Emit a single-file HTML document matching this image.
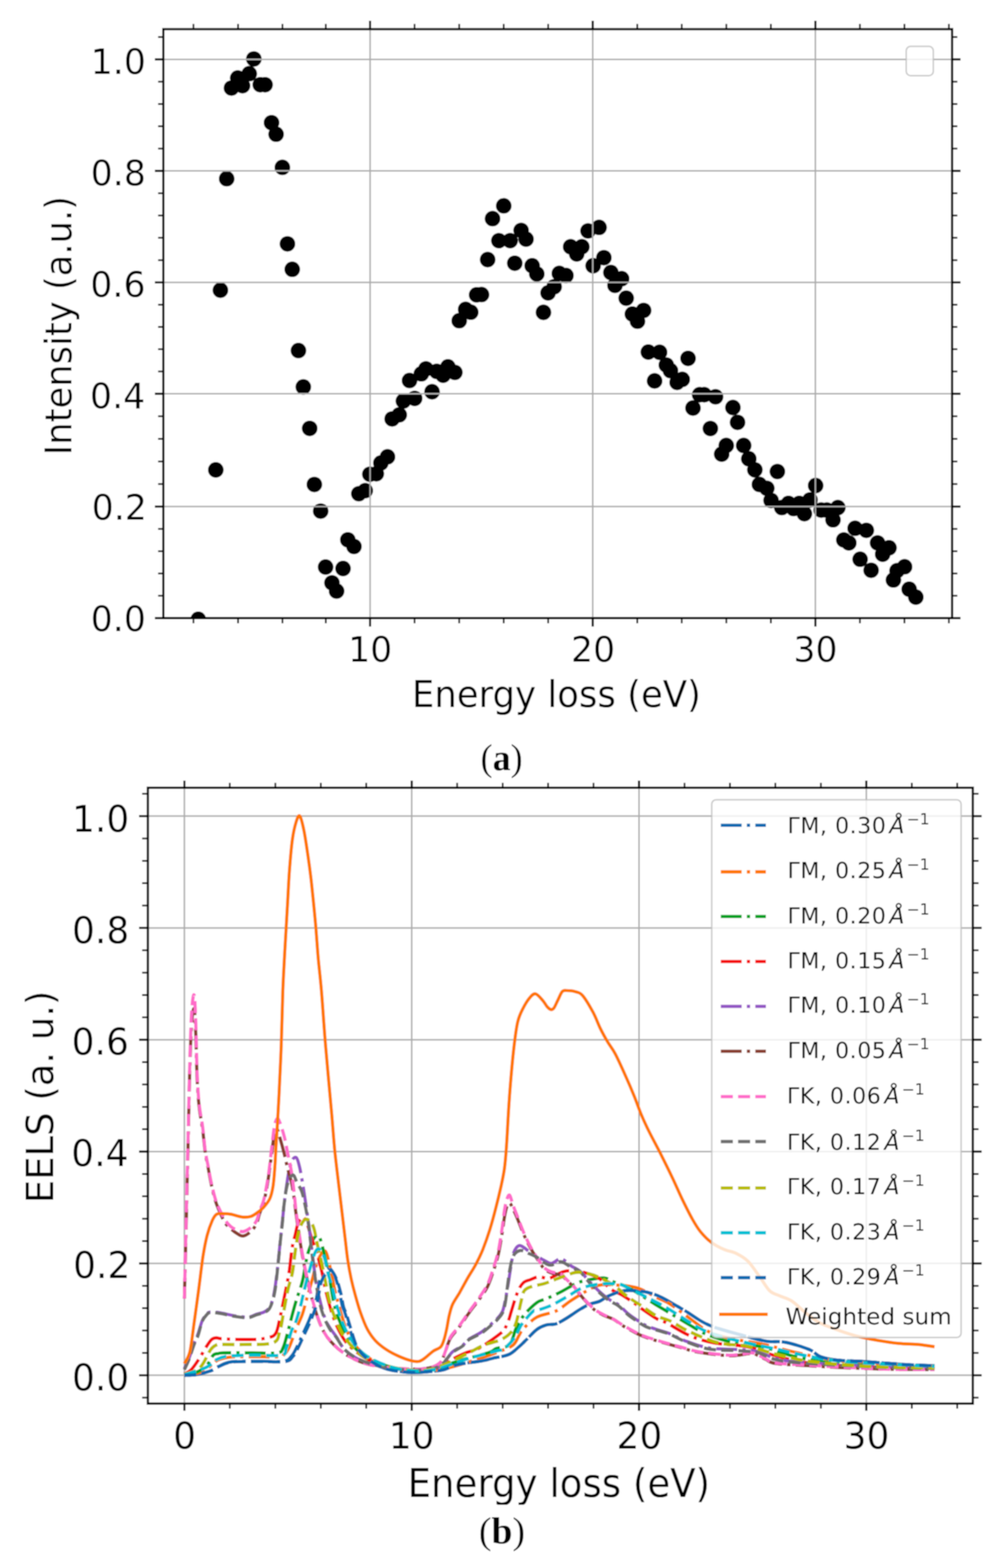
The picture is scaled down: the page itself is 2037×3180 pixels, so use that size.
<!DOCTYPE html>
<html><head><meta charset="utf-8"><title>EELS figure</title>
<style>html,body{margin:0;padding:0;background:#fff;}svg{display:block;}text{font-family:'DejaVu Sans', 'Liberation Sans', sans-serif;}</style></head><body>
<svg width="2037" height="3180" viewBox="0 0 2037 3180">
<rect x="0" y="0" width="2037" height="3180" fill="#ffffff"/>
<filter id="soft" x="0" y="0" width="2037" height="3180" filterUnits="userSpaceOnUse"><feGaussianBlur stdDeviation="1.0"/></filter>
<g filter="url(#soft)">
<rect x="0" y="0" width="2037" height="3180" fill="#ffffff"/>
<defs><clipPath id="clipA"><rect x="331.3" y="59.1" width="1600.5" height="1194.5"/></clipPath><clipPath id="clipB"><rect x="300" y="1597.7" width="1673.8" height="1248.9"/></clipPath><clipPath id="clipXL"><rect x="0" y="2945" width="2037" height="107"/></clipPath></defs>
<g clip-path="url(#clipA)" fill="#000">
<circle cx="402.3" cy="1256" r="15.9"/>
<circle cx="515" cy="119.6" r="15.9"/>
<circle cx="505.7" cy="149.4" r="15.9"/>
<circle cx="482.3" cy="158.2" r="15.9"/>
<circle cx="492" cy="173.8" r="15.9"/>
<circle cx="469.6" cy="178.6" r="15.9"/>
<circle cx="528.1" cy="171.8" r="15.9"/>
<circle cx="537.8" cy="171.8" r="15.9"/>
<circle cx="550.9" cy="248.8" r="15.9"/>
<circle cx="560.2" cy="272.2" r="15.9"/>
<circle cx="572.9" cy="339.4" r="15.9"/>
<circle cx="459.9" cy="362.4" r="15.9"/>
<circle cx="583.2" cy="494.6" r="15.9"/>
<circle cx="592.9" cy="546.2" r="15.9"/>
<circle cx="447.2" cy="588.5" r="15.9"/>
<circle cx="605.5" cy="710.9" r="15.9"/>
<circle cx="615.4" cy="784.7" r="15.9"/>
<circle cx="628.3" cy="868.8" r="15.9"/>
<circle cx="437.8" cy="953" r="15.9"/>
<circle cx="637.8" cy="982.6" r="15.9"/>
<circle cx="650.6" cy="1036.6" r="15.9"/>
<circle cx="705.7" cy="1094.8" r="15.9"/>
<circle cx="718.2" cy="1108.3" r="15.9"/>
<circle cx="660.6" cy="1149.9" r="15.9"/>
<circle cx="696" cy="1153" r="15.9"/>
<circle cx="673.5" cy="1182.1" r="15.9"/>
<circle cx="682.9" cy="1198.7" r="15.9"/>
<circle cx="728" cy="1001.3" r="15.9"/>
<circle cx="741" cy="995.1" r="15.9"/>
<circle cx="750.4" cy="961.8" r="15.9"/>
<circle cx="763.5" cy="960.8" r="15.9"/>
<circle cx="772.7" cy="939" r="15.9"/>
<circle cx="786.2" cy="926.5" r="15.9"/>
<circle cx="795.6" cy="849.6" r="15.9"/>
<circle cx="810.1" cy="841.3" r="15.9"/>
<circle cx="818.4" cy="813.2" r="15.9"/>
<circle cx="841.3" cy="808.1" r="15.9"/>
<circle cx="876.6" cy="794.5" r="15.9"/>
<circle cx="830.9" cy="771.7" r="15.9"/>
<circle cx="854.8" cy="758.2" r="15.9"/>
<circle cx="864.2" cy="748.1" r="15.9"/>
<circle cx="886" cy="753.2" r="15.9"/>
<circle cx="899" cy="761" r="15.9"/>
<circle cx="908.8" cy="743.9" r="15.9"/>
<circle cx="922.9" cy="755.3" r="15.9"/>
<circle cx="931.7" cy="650.4" r="15.9"/>
<circle cx="944.7" cy="627.5" r="15.9"/>
<circle cx="955.1" cy="633.2" r="15.9"/>
<circle cx="967" cy="597.9" r="15.9"/>
<circle cx="976.9" cy="597.4" r="15.9"/>
<circle cx="989.4" cy="526.5" r="15.9"/>
<circle cx="999.3" cy="443.4" r="15.9"/>
<circle cx="1022" cy="417.4" r="15.9"/>
<circle cx="1012.2" cy="488.1" r="15.9"/>
<circle cx="1035.1" cy="488.1" r="15.9"/>
<circle cx="1057.3" cy="467.3" r="15.9"/>
<circle cx="1067.3" cy="484.9" r="15.9"/>
<circle cx="1044.4" cy="533.8" r="15.9"/>
<circle cx="1079.7" cy="539" r="15.9"/>
<circle cx="1089.1" cy="555.6" r="15.9"/>
<circle cx="1102.6" cy="633.5" r="15.9"/>
<circle cx="1112" cy="594" r="15.9"/>
<circle cx="1124.4" cy="581.6" r="15.9"/>
<circle cx="1134.8" cy="554.5" r="15.9"/>
<circle cx="1148.3" cy="558.7" r="15.9"/>
<circle cx="1157.7" cy="500.5" r="15.9"/>
<circle cx="1170.1" cy="515.1" r="15.9"/>
<circle cx="1180.5" cy="500.5" r="15.9"/>
<circle cx="1193" cy="468.3" r="15.9"/>
<circle cx="1203.4" cy="539" r="15.9"/>
<circle cx="1215.5" cy="461.2" r="15.9"/>
<circle cx="1225.2" cy="522.6" r="15.9"/>
<circle cx="1239.4" cy="552.7" r="15.9"/>
<circle cx="1261.2" cy="565.2" r="15.9"/>
<circle cx="1247.7" cy="578.7" r="15.9"/>
<circle cx="1270.5" cy="604.7" r="15.9"/>
<circle cx="1283" cy="636.9" r="15.9"/>
<circle cx="1305.8" cy="629.6" r="15.9"/>
<circle cx="1293.4" cy="651.4" r="15.9"/>
<circle cx="1315.4" cy="714" r="15.9"/>
<circle cx="1338.2" cy="714.5" r="15.9"/>
<circle cx="1351.9" cy="740.3" r="15.9"/>
<circle cx="1360.3" cy="751.7" r="15.9"/>
<circle cx="1328.1" cy="772.5" r="15.9"/>
<circle cx="1373.8" cy="775.6" r="15.9"/>
<circle cx="1384.2" cy="769.4" r="15.9"/>
<circle cx="1396" cy="726.8" r="15.9"/>
<circle cx="1419.5" cy="800.5" r="15.9"/>
<circle cx="1428.8" cy="800.5" r="15.9"/>
<circle cx="1451.7" cy="804.7" r="15.9"/>
<circle cx="1406" cy="827.5" r="15.9"/>
<circle cx="1487" cy="826.5" r="15.9"/>
<circle cx="1496.4" cy="856.6" r="15.9"/>
<circle cx="1441.3" cy="869.1" r="15.9"/>
<circle cx="1473.5" cy="903.4" r="15.9"/>
<circle cx="1464.2" cy="921" r="15.9"/>
<circle cx="1508.8" cy="903.4" r="15.9"/>
<circle cx="1519.2" cy="930.4" r="15.9"/>
<circle cx="1531.5" cy="952.8" r="15.9"/>
<circle cx="1577.2" cy="956.3" r="15.9"/>
<circle cx="1540.7" cy="982.5" r="15.9"/>
<circle cx="1555.8" cy="990.3" r="15.9"/>
<circle cx="1564.4" cy="1014.8" r="15.9"/>
<circle cx="1586.2" cy="1029.4" r="15.9"/>
<circle cx="1599.7" cy="1021" r="15.9"/>
<circle cx="1610.1" cy="1031.4" r="15.9"/>
<circle cx="1621.6" cy="1021" r="15.9"/>
<circle cx="1632" cy="1041.8" r="15.9"/>
<circle cx="1643.4" cy="1013.8" r="15.9"/>
<circle cx="1654.8" cy="984.7" r="15.9"/>
<circle cx="1666.2" cy="1034.5" r="15.9"/>
<circle cx="1677.7" cy="1034.5" r="15.9"/>
<circle cx="1699.9" cy="1029.4" r="15.9"/>
<circle cx="1690.1" cy="1054.2" r="15.9"/>
<circle cx="1734.9" cy="1071.4" r="15.9"/>
<circle cx="1757.7" cy="1075.6" r="15.9"/>
<circle cx="1712" cy="1095.1" r="15.9"/>
<circle cx="1722.2" cy="1101.1" r="15.9"/>
<circle cx="1780.5" cy="1101.1" r="15.9"/>
<circle cx="1803.7" cy="1110.9" r="15.9"/>
<circle cx="1790.8" cy="1124" r="15.9"/>
<circle cx="1745.1" cy="1134.2" r="15.9"/>
<circle cx="1767.4" cy="1156.6" r="15.9"/>
<circle cx="1835.3" cy="1149.4" r="15.9"/>
<circle cx="1820" cy="1157.5" r="15.9"/>
<circle cx="1812.6" cy="1176.2" r="15.9"/>
<circle cx="1844.6" cy="1195" r="15.9"/>
<circle cx="1858.1" cy="1211" r="15.9"/>
</g>
<g stroke="#ababab" stroke-width="3.0" fill="none">
<line x1="331.3" y1="1027.3" x2="1931.8" y2="1027.3"/>
<line x1="331.3" y1="798.6" x2="1931.8" y2="798.6"/>
<line x1="331.3" y1="572.8" x2="1931.8" y2="572.8"/>
<line x1="331.3" y1="346.6" x2="1931.8" y2="346.6"/>
<line x1="331.3" y1="120.4" x2="1931.8" y2="120.4"/>
<line x1="750.9" y1="59.1" x2="750.9" y2="1253.6"/>
<line x1="1202.6" y1="59.1" x2="1202.6" y2="1253.6"/>
<line x1="1654.3" y1="59.1" x2="1654.3" y2="1253.6"/>
</g>
<rect x="1838.6" y="94.0" width="55.0" height="59.4" rx="9" ry="9" fill="#ffffff" fill-opacity="0.8" stroke="#bdbdbd" stroke-opacity="0.8" stroke-width="3.0"/>
<g stroke="#000" fill="none">
<line x1="314.3" y1="1253.6" x2="331.3" y2="1253.6" stroke-width="4.3"/>
<line x1="1931.8" y1="1253.6" x2="1948.8" y2="1253.6" stroke-width="4.3"/>
<line x1="314.3" y1="1027.3" x2="331.3" y2="1027.3" stroke-width="4.3"/>
<line x1="1931.8" y1="1027.3" x2="1948.8" y2="1027.3" stroke-width="4.3"/>
<line x1="314.3" y1="798.6" x2="331.3" y2="798.6" stroke-width="4.3"/>
<line x1="1931.8" y1="798.6" x2="1948.8" y2="798.6" stroke-width="4.3"/>
<line x1="314.3" y1="572.8" x2="331.3" y2="572.8" stroke-width="4.3"/>
<line x1="1931.8" y1="572.8" x2="1948.8" y2="572.8" stroke-width="4.3"/>
<line x1="314.3" y1="346.6" x2="331.3" y2="346.6" stroke-width="4.3"/>
<line x1="1931.8" y1="346.6" x2="1948.8" y2="346.6" stroke-width="4.3"/>
<line x1="314.3" y1="120.4" x2="331.3" y2="120.4" stroke-width="4.3"/>
<line x1="1931.8" y1="120.4" x2="1948.8" y2="120.4" stroke-width="4.3"/>
<line x1="320.8" y1="1208.3" x2="331.3" y2="1208.3" stroke-width="3.5"/>
<line x1="1931.8" y1="1208.3" x2="1942.3" y2="1208.3" stroke-width="3.5"/>
<line x1="320.8" y1="1163.1" x2="331.3" y2="1163.1" stroke-width="3.5"/>
<line x1="1931.8" y1="1163.1" x2="1942.3" y2="1163.1" stroke-width="3.5"/>
<line x1="320.8" y1="1117.8" x2="331.3" y2="1117.8" stroke-width="3.5"/>
<line x1="1931.8" y1="1117.8" x2="1942.3" y2="1117.8" stroke-width="3.5"/>
<line x1="320.8" y1="1072.6" x2="331.3" y2="1072.6" stroke-width="3.5"/>
<line x1="1931.8" y1="1072.6" x2="1942.3" y2="1072.6" stroke-width="3.5"/>
<line x1="320.8" y1="981.6" x2="331.3" y2="981.6" stroke-width="3.5"/>
<line x1="1931.8" y1="981.6" x2="1942.3" y2="981.6" stroke-width="3.5"/>
<line x1="320.8" y1="935.8" x2="331.3" y2="935.8" stroke-width="3.5"/>
<line x1="1931.8" y1="935.8" x2="1942.3" y2="935.8" stroke-width="3.5"/>
<line x1="320.8" y1="890.1" x2="331.3" y2="890.1" stroke-width="3.5"/>
<line x1="1931.8" y1="890.1" x2="1942.3" y2="890.1" stroke-width="3.5"/>
<line x1="320.8" y1="844.3" x2="331.3" y2="844.3" stroke-width="3.5"/>
<line x1="1931.8" y1="844.3" x2="1942.3" y2="844.3" stroke-width="3.5"/>
<line x1="320.8" y1="753.4" x2="331.3" y2="753.4" stroke-width="3.5"/>
<line x1="1931.8" y1="753.4" x2="1942.3" y2="753.4" stroke-width="3.5"/>
<line x1="320.8" y1="708.3" x2="331.3" y2="708.3" stroke-width="3.5"/>
<line x1="1931.8" y1="708.3" x2="1942.3" y2="708.3" stroke-width="3.5"/>
<line x1="320.8" y1="663.1" x2="331.3" y2="663.1" stroke-width="3.5"/>
<line x1="1931.8" y1="663.1" x2="1942.3" y2="663.1" stroke-width="3.5"/>
<line x1="320.8" y1="618" x2="331.3" y2="618" stroke-width="3.5"/>
<line x1="1931.8" y1="618" x2="1942.3" y2="618" stroke-width="3.5"/>
<line x1="320.8" y1="527.6" x2="331.3" y2="527.6" stroke-width="3.5"/>
<line x1="1931.8" y1="527.6" x2="1942.3" y2="527.6" stroke-width="3.5"/>
<line x1="320.8" y1="482.3" x2="331.3" y2="482.3" stroke-width="3.5"/>
<line x1="1931.8" y1="482.3" x2="1942.3" y2="482.3" stroke-width="3.5"/>
<line x1="320.8" y1="437.1" x2="331.3" y2="437.1" stroke-width="3.5"/>
<line x1="1931.8" y1="437.1" x2="1942.3" y2="437.1" stroke-width="3.5"/>
<line x1="320.8" y1="391.8" x2="331.3" y2="391.8" stroke-width="3.5"/>
<line x1="1931.8" y1="391.8" x2="1942.3" y2="391.8" stroke-width="3.5"/>
<line x1="320.8" y1="301.4" x2="331.3" y2="301.4" stroke-width="3.5"/>
<line x1="1931.8" y1="301.4" x2="1942.3" y2="301.4" stroke-width="3.5"/>
<line x1="320.8" y1="256.1" x2="331.3" y2="256.1" stroke-width="3.5"/>
<line x1="1931.8" y1="256.1" x2="1942.3" y2="256.1" stroke-width="3.5"/>
<line x1="320.8" y1="210.9" x2="331.3" y2="210.9" stroke-width="3.5"/>
<line x1="1931.8" y1="210.9" x2="1942.3" y2="210.9" stroke-width="3.5"/>
<line x1="320.8" y1="165.6" x2="331.3" y2="165.6" stroke-width="3.5"/>
<line x1="1931.8" y1="165.6" x2="1942.3" y2="165.6" stroke-width="3.5"/>
<line x1="320.8" y1="75.2" x2="331.3" y2="75.2" stroke-width="3.5"/>
<line x1="1931.8" y1="75.2" x2="1942.3" y2="75.2" stroke-width="3.5"/>
<line x1="750.9" y1="1253.6" x2="750.9" y2="1270.6" stroke-width="4.3"/>
<line x1="750.9" y1="42.1" x2="750.9" y2="59.1" stroke-width="4.3"/>
<line x1="1202.6" y1="1253.6" x2="1202.6" y2="1270.6" stroke-width="4.3"/>
<line x1="1202.6" y1="42.1" x2="1202.6" y2="59.1" stroke-width="4.3"/>
<line x1="1654.3" y1="1253.6" x2="1654.3" y2="1270.6" stroke-width="4.3"/>
<line x1="1654.3" y1="42.1" x2="1654.3" y2="59.1" stroke-width="4.3"/>
<line x1="392.5" y1="1253.6" x2="392.5" y2="1264.1" stroke-width="3.5"/>
<line x1="392.5" y1="48.6" x2="392.5" y2="59.1" stroke-width="3.5"/>
<line x1="483" y1="1253.6" x2="483" y2="1264.1" stroke-width="3.5"/>
<line x1="483" y1="48.6" x2="483" y2="59.1" stroke-width="3.5"/>
<line x1="573.2" y1="1253.6" x2="573.2" y2="1264.1" stroke-width="3.5"/>
<line x1="573.2" y1="48.6" x2="573.2" y2="59.1" stroke-width="3.5"/>
<line x1="661" y1="1253.6" x2="661" y2="1264.1" stroke-width="3.5"/>
<line x1="661" y1="48.6" x2="661" y2="59.1" stroke-width="3.5"/>
<line x1="841.2" y1="1253.6" x2="841.2" y2="1264.1" stroke-width="3.5"/>
<line x1="841.2" y1="48.6" x2="841.2" y2="59.1" stroke-width="3.5"/>
<line x1="931.6" y1="1253.6" x2="931.6" y2="1264.1" stroke-width="3.5"/>
<line x1="931.6" y1="48.6" x2="931.6" y2="59.1" stroke-width="3.5"/>
<line x1="1021.9" y1="1253.6" x2="1021.9" y2="1264.1" stroke-width="3.5"/>
<line x1="1021.9" y1="48.6" x2="1021.9" y2="59.1" stroke-width="3.5"/>
<line x1="1112.3" y1="1253.6" x2="1112.3" y2="1264.1" stroke-width="3.5"/>
<line x1="1112.3" y1="48.6" x2="1112.3" y2="59.1" stroke-width="3.5"/>
<line x1="1292.9" y1="1253.6" x2="1292.9" y2="1264.1" stroke-width="3.5"/>
<line x1="1292.9" y1="48.6" x2="1292.9" y2="59.1" stroke-width="3.5"/>
<line x1="1383.3" y1="1253.6" x2="1383.3" y2="1264.1" stroke-width="3.5"/>
<line x1="1383.3" y1="48.6" x2="1383.3" y2="59.1" stroke-width="3.5"/>
<line x1="1473.6" y1="1253.6" x2="1473.6" y2="1264.1" stroke-width="3.5"/>
<line x1="1473.6" y1="48.6" x2="1473.6" y2="59.1" stroke-width="3.5"/>
<line x1="1564" y1="1253.6" x2="1564" y2="1264.1" stroke-width="3.5"/>
<line x1="1564" y1="48.6" x2="1564" y2="59.1" stroke-width="3.5"/>
<line x1="1744.6" y1="1253.6" x2="1744.6" y2="1264.1" stroke-width="3.5"/>
<line x1="1744.6" y1="48.6" x2="1744.6" y2="59.1" stroke-width="3.5"/>
<line x1="1835" y1="1253.6" x2="1835" y2="1264.1" stroke-width="3.5"/>
<line x1="1835" y1="48.6" x2="1835" y2="59.1" stroke-width="3.5"/>
<line x1="1925.3" y1="1253.6" x2="1925.3" y2="1264.1" stroke-width="3.5"/>
<line x1="1925.3" y1="48.6" x2="1925.3" y2="59.1" stroke-width="3.5"/>
</g>
<rect x="331.3" y="59.1" width="1600.5" height="1194.5" fill="none" stroke="#000" stroke-width="4.6" stroke-linejoin="miter"/>
<text transform="translate(184,1280.3) scale(0.9780,1)" font-size="72" fill="#000">0.0</text>
<text transform="translate(186.1,1054.3) scale(0.9780,1)" font-size="72" fill="#000">0.2</text>
<text transform="translate(182.6,828.3) scale(0.9780,1)" font-size="72" fill="#000">0.4</text>
<text transform="translate(183.3,602.3) scale(0.9780,1)" font-size="72" fill="#000">0.6</text>
<text transform="translate(184,376.3) scale(0.9780,1)" font-size="72" fill="#000">0.8</text>
<text transform="translate(184,150.3) scale(0.9780,1)" font-size="72" fill="#000">1.0</text>
<text transform="translate(706.2,1341.9) scale(0.9780,1)" font-size="72" fill="#000">10</text>
<text transform="translate(1158.5,1341.9) scale(0.9780,1)" font-size="72" fill="#000">20</text>
<text transform="translate(1609.8,1341.9) scale(0.9780,1)" font-size="72" fill="#000">30</text>
<text transform="translate(835.7,1434.3) scale(0.9660,1)" font-size="74.5" fill="#000">Energy loss (eV)</text>
<text transform="translate(144.5,923.2) rotate(-90) scale(0.9560,1)" font-size="75" fill="#000">Intensity (a.u.)</text>
<text transform="translate(975,1561.9) scale(0.9550,1)" font-size="76.7" style="font-family:'Liberation Serif','Times New Roman',serif" font-weight="bold" fill="#000"><tspan font-weight="normal">(</tspan>a<tspan font-weight="normal">)</tspan></text>
<g stroke="#ababab" stroke-width="3.0" fill="none">
<line x1="300" y1="2789.1" x2="1973.8" y2="2789.1"/>
<line x1="300" y1="2562.3" x2="1973.8" y2="2562.3"/>
<line x1="300" y1="2335.5" x2="1973.8" y2="2335.5"/>
<line x1="300" y1="2108.7" x2="1973.8" y2="2108.7"/>
<line x1="300" y1="1881.9" x2="1973.8" y2="1881.9"/>
<line x1="300" y1="1655.1" x2="1973.8" y2="1655.1"/>
<line x1="374.1" y1="1597.7" x2="374.1" y2="2846.6"/>
<line x1="835.3" y1="1597.7" x2="835.3" y2="2846.6"/>
<line x1="1296.5" y1="1597.7" x2="1296.5" y2="2846.6"/>
<line x1="1757.7" y1="1597.7" x2="1757.7" y2="2846.6"/>
</g>
<g clip-path="url(#clipB)" fill="none" stroke-linejoin="round">
<path d="M374.1,2789.1 C377.9,2788.9 388.2,2789.5 397.2,2788 C406.1,2786.5 419.8,2782.9 427.6,2780 C435.4,2777.2 437.2,2774 444.2,2771 C451.2,2767.9 455.5,2763.6 469.6,2761.9 C483.6,2760.2 510.8,2760.9 528.6,2760.8 C546.4,2760.6 565.7,2762.5 576.1,2760.8 C586.6,2759 587.1,2755.1 591.3,2750.5 C595.6,2746 597.8,2740.7 601.5,2733.5 C605.2,2726.4 609.1,2717.1 613.5,2707.5 C617.8,2697.8 623.3,2686.9 627.8,2675.7 C632.2,2664.5 637.4,2650 640.2,2640.5 C643,2631.1 643,2626.2 644.4,2619 C645.7,2611.8 646.3,2604.1 648.5,2597.5 C650.7,2590.8 654.4,2583.5 657.7,2579.3 C661.1,2575.2 665.1,2570.8 668.8,2572.5 C672.5,2574.2 676.6,2581.8 679.9,2589.5 C683.2,2597.3 686.3,2609.4 688.6,2619 C691,2628.6 692.2,2639.8 694.2,2647.3 C696.2,2654.9 697,2653 700.6,2664.4 C704.2,2675.7 711.9,2703.5 715.8,2715.4 C719.8,2727.3 720.4,2729.4 724.6,2735.8 C728.8,2742.2 732.8,2747.7 741.2,2753.9 C749.7,2760.2 764,2768.7 775.3,2773.2 C786.6,2777.8 797.8,2779.5 809,2781.2 C820.2,2782.9 831.5,2783.4 842.7,2783.4 C853.9,2783.4 866.8,2782.1 876.3,2781.2 C885.9,2780.2 891.4,2780 899.9,2777.8 C908.3,2775.5 913.8,2770.6 927.1,2767.6 C940.4,2764.5 967,2761.9 979.7,2759.6 C992.3,2757.3 994,2756 1002.7,2753.9 C1011.5,2751.9 1023.9,2750.9 1032.2,2747.1 C1040.6,2743.4 1047.1,2736.2 1053,2731.3 C1058.8,2726.4 1061.2,2723.5 1067.3,2717.7 C1073.4,2711.8 1082.5,2701.2 1089.4,2696.1 C1096.3,2691 1102.3,2688.9 1108.8,2687 C1115.2,2685.2 1121.7,2686.9 1128.2,2684.8 C1134.6,2682.7 1139.4,2679.5 1147.5,2674.6 C1155.7,2669.7 1168.9,2660.2 1177,2655.3 C1185.2,2650.4 1190,2647.7 1196.4,2645.1 C1202.9,2642.4 1209.3,2642.2 1215.8,2639.4 C1222.2,2636.6 1227,2631.7 1235.2,2628.1 C1243.3,2624.5 1254.9,2619.6 1264.7,2617.9 C1274.4,2616.2 1284.7,2617.1 1293.7,2617.9 C1302.8,2618.6 1311,2620.1 1319.1,2622.4 C1327.2,2624.7 1331,2625.6 1342.6,2631.5 C1354.2,2637.3 1372.9,2648.3 1388.7,2657.6 C1404.6,2666.8 1418.4,2678.7 1437.6,2687 C1456.8,2695.4 1484.6,2702 1504,2707.5 C1523.5,2712.9 1539.4,2717.5 1554.3,2719.9 C1569.2,2722.4 1578.9,2719.4 1593.5,2722.2 C1608.1,2725 1630,2732 1641.9,2736.9 C1653.9,2741.8 1655.3,2748.1 1665,2751.7 C1674.7,2755.3 1686.4,2757 1700,2758.5 C1713.7,2760 1731.5,2759.8 1747.1,2760.8 C1762.7,2761.7 1778.1,2763 1793.7,2764.2 C1809.3,2765.3 1823.7,2766.6 1840.7,2767.6 C1857.8,2768.5 1886.8,2769.4 1896.1,2769.8" stroke="#0869b0" stroke-width="6.6" stroke-dasharray="42.2 10.6 6.6 10.6" stroke-linecap="butt"/>
<path d="M374.1,2789.1 C379.3,2788.2 396,2787 405.5,2783.4 C414.9,2779.8 424.4,2771.9 430.8,2767.6 C437.3,2763.2 436.3,2760 444.2,2757.3 C452.1,2754.7 458.6,2752.6 478.3,2751.7 C498.1,2750.7 546.4,2752.4 562.7,2751.7 C579,2750.9 572.2,2750.2 576.1,2747.1 C580,2744.1 582.9,2740.1 586.3,2733.5 C589.6,2726.9 593.6,2714.6 596.4,2707.5 C599.2,2700.3 600,2697.4 602.9,2690.4 C605.7,2683.4 610.2,2675.1 613.5,2665.5 C616.8,2655.9 619.5,2643.9 622.7,2632.6 C625.9,2621.3 630.1,2607.3 632.8,2597.5 C635.6,2587.6 636.7,2581.8 639.3,2573.6 C641.9,2565.5 645.1,2554.7 648.5,2548.7 C652,2542.6 656.7,2534.5 660,2537.4 C663.4,2540.2 665.5,2552.1 668.8,2565.7 C672.1,2579.3 676,2602.6 679.9,2619 C683.8,2635.4 687.9,2650.2 692.3,2664.4 C696.7,2678.5 700,2691.8 706.2,2704 C712.3,2716.3 719.2,2728.1 729.2,2738.1 C739.2,2748.1 752.3,2757.5 766.1,2764.2 C780,2770.8 796.9,2775.1 812.2,2777.8 C827.6,2780.4 843,2780.4 858.4,2780 C873.7,2779.6 885.3,2779.6 904.5,2775.5 C923.7,2771.3 955.3,2760.9 973.7,2755.1 C992,2749.2 1003.5,2744.9 1014.7,2740.3 C1025.9,2735.8 1034.6,2733.2 1041,2727.9 C1047.4,2722.6 1049.5,2714.1 1053,2708.6 C1056.4,2703.1 1055.7,2701.2 1061.7,2695 C1067.8,2688.7 1078.4,2677.2 1089.4,2671.2 C1100.5,2665.1 1116.8,2664.2 1128.2,2658.7 C1139.5,2653.2 1147.9,2644.7 1157.7,2638.3 C1167.4,2631.9 1177,2625.4 1186.7,2620.1 C1196.4,2614.8 1204.4,2608.8 1215.8,2606.5 C1227.2,2604.3 1242,2605.6 1255,2606.5 C1268,2607.5 1280.8,2608 1293.7,2612.2 C1306.6,2616.4 1321.4,2626 1332.5,2631.5 C1343.5,2637 1349.1,2638.1 1360.1,2645.1 C1371.2,2652.1 1386,2664.2 1398.9,2673.4 C1411.8,2682.7 1423.9,2693.8 1437.6,2700.6 C1451.3,2707.5 1462.2,2709.9 1481,2714.3 C1499.7,2718.6 1527.1,2721.8 1550.2,2726.7 C1573.2,2731.6 1592.4,2738.1 1619.3,2743.7 C1646.2,2749.4 1665.5,2756.2 1711.6,2760.8 C1757.7,2765.3 1865.3,2769.3 1896.1,2771" stroke="#ff7600" stroke-width="6.6" stroke-dasharray="42.2 10.6 6.6 10.6" stroke-linecap="butt"/>
<path d="M374.1,2788 C378.5,2787 392.6,2785.7 400.4,2782.3 C408.2,2778.9 415.3,2773.2 420.7,2767.6 C426.1,2761.9 428.9,2752.1 432.7,2748.3 C436.4,2744.5 439.9,2745.6 443.3,2744.9 C446.7,2744.1 441.5,2743.9 453,2743.7 C464.4,2743.6 493.7,2743.7 512,2743.7 C530.3,2743.7 552.4,2745.4 562.7,2743.7 C573.1,2742 570.6,2740.9 574.3,2733.5 C577.9,2726.2 581.3,2710.9 584.4,2699.5 C587.6,2688.2 590.3,2676.1 593.2,2665.5 C596,2654.9 598.1,2647.2 601.5,2636 C604.9,2624.9 610.2,2611.8 613.5,2598.6 C616.8,2585.4 619,2567.4 621.3,2556.6 C623.6,2545.9 624.7,2541.5 627.3,2533.9 C629.9,2526.4 633.9,2516 637,2511.3 C640.1,2506.5 643.1,2503.7 645.7,2505.6 C648.4,2507.5 649.8,2512.8 652.7,2522.6 C655.5,2532.4 660.1,2552.7 662.8,2564.6 C665.5,2576.5 666.4,2581.4 668.8,2594.1 C671.2,2606.7 674,2626.9 677.1,2640.5 C680.3,2654.2 682.9,2663.2 687.7,2675.7 C692.6,2688.2 698.5,2703.7 706.2,2715.4 C713.9,2727.1 721.5,2737.1 733.8,2746 C746.1,2754.9 763,2763 780,2768.7 C796.9,2774.4 818.4,2778.5 835.3,2780 C852.2,2781.5 866,2781 881.4,2777.8 C896.8,2774.5 909.4,2766.4 927.5,2760.8 C945.7,2755.1 977,2748.1 990.3,2743.7 C1003.6,2739.4 1000.3,2737.1 1007.3,2734.7 C1014.3,2732.2 1026.6,2732.8 1032.2,2729 C1037.8,2725.2 1038.5,2718 1041,2712 C1043.5,2705.9 1043.7,2700.3 1047.5,2692.7 C1051.2,2685.2 1056.6,2675.1 1063.6,2666.6 C1070.6,2658.1 1081.9,2647.2 1089.4,2641.7 C1097,2636.2 1100.7,2637.3 1108.8,2633.7 C1116.9,2630.2 1127.5,2625.4 1137.8,2620.1 C1148.2,2614.8 1161.3,2606.1 1171.1,2602 C1180.8,2597.8 1187.3,2596.9 1196.4,2595.2 C1205.5,2593.5 1217.4,2591 1225.5,2591.8 C1233.5,2592.5 1236.7,2596.5 1244.8,2599.7 C1253,2602.9 1263.9,2605.8 1274.4,2611.1 C1284.8,2616.4 1297.9,2625.4 1307.6,2631.5 C1317.3,2637.5 1325.1,2642.8 1332.5,2647.3 C1339.9,2651.9 1340.8,2652.1 1351.8,2658.7 C1362.9,2665.3 1385.2,2679.1 1398.9,2687 C1412.6,2695 1420.3,2700.6 1433.9,2706.3 C1447.6,2712 1461.6,2716.7 1481,2721.1 C1500.4,2725.4 1527.1,2727.1 1550.2,2732.4 C1573.2,2737.7 1592.4,2747.1 1619.3,2752.8 C1646.2,2758.5 1665.5,2763 1711.6,2766.4 C1757.7,2769.8 1865.3,2772.1 1896.1,2773.2" stroke="#03a024" stroke-width="6.6" stroke-dasharray="42.2 10.6 6.6 10.6" stroke-linecap="butt"/>
<path d="M374.1,2786.8 C376.4,2785.3 383.2,2782.5 387.9,2777.8 C392.6,2773 397,2766.4 402.2,2758.5 C407.5,2750.5 414.8,2737.1 419.3,2730.1 C423.8,2723.1 426.2,2719.4 429.4,2716.5 C432.7,2713.7 434.7,2713.3 438.7,2713.1 C442.6,2712.9 440.7,2714.8 453,2715.4 C465.2,2716 497.1,2716.9 512,2716.5 C526.9,2716.1 534.5,2715.2 542.4,2713.1 C550.4,2711 555.2,2711 559.5,2704 C563.8,2697.1 565.4,2683.3 568.3,2671.2 C571.1,2659.1 573.6,2646.4 576.6,2631.5 C579.6,2616.5 583.6,2598.4 586.3,2581.6 C588.9,2564.8 590.6,2543.6 592.7,2530.5 C594.9,2517.5 597.2,2511.6 599.2,2503.3 C601.2,2495 602.2,2486.5 604.7,2480.7 C607.2,2474.8 611.2,2467.4 614.4,2468.2 C617.6,2468.9 621.1,2478 624.1,2485.2 C627.1,2492.4 629.7,2503.1 632.4,2511.3 C635.1,2519.4 637.8,2526.4 640.2,2533.9 C642.7,2541.5 644.7,2547.9 647.1,2556.6 C649.5,2565.3 652.1,2575.5 654.5,2586.1 C656.9,2596.7 658.2,2607.1 661.4,2620.1 C664.7,2633.2 669.5,2651.3 673.9,2664.4 C678.3,2677.4 682.3,2688 687.7,2698.4 C693.1,2708.8 696.9,2717.3 706.2,2726.7 C715.4,2736.2 729.2,2747.5 743.1,2755.1 C756.9,2762.6 773.8,2767.9 789.2,2772.1 C804.6,2776.2 819.9,2779.5 835.3,2780 C850.7,2780.6 866.1,2780.2 881.4,2775.5 C896.7,2770.8 916.5,2757 927.1,2751.7 C937.6,2746.4 937.3,2746.6 944.6,2743.7 C951.9,2740.9 962.1,2739 970.9,2734.7 C979.7,2730.3 989,2723.3 997.2,2717.7 C1005.3,2712 1015.1,2704.8 1019.8,2700.6 C1024.5,2696.5 1023.2,2696.7 1025.3,2692.7 C1027.4,2688.7 1030.2,2682.3 1032.2,2676.8 C1034.2,2671.4 1034.4,2669.1 1037.3,2659.8 C1040.2,2650.6 1045.8,2630.9 1049.8,2621.3 C1053.8,2611.6 1056.9,2606.3 1061.3,2602 C1065.7,2597.6 1070.7,2597.3 1076,2595.2 C1081.4,2593.1 1087,2589.9 1093.1,2589.5 C1099.2,2589.1 1107,2593.3 1112.5,2592.9 C1117.9,2592.5 1120.9,2589.5 1125.9,2587.2 C1130.8,2585 1136.1,2581 1142,2579.3 C1147.9,2577.6 1153.6,2576.7 1161.4,2577 C1169.1,2577.4 1179.5,2578.9 1188.6,2581.6 C1197.6,2584.2 1207.3,2587.4 1215.8,2592.9 C1224.2,2598.4 1231.2,2608.6 1239.3,2614.5 C1247.5,2620.3 1256.5,2623.2 1264.7,2628.1 C1272.8,2633 1281.7,2639.4 1288.2,2643.9 C1294.7,2648.5 1296,2650.2 1303.4,2655.3 C1310.8,2660.4 1324.4,2670 1332.5,2674.6 C1340.5,2679.1 1340.8,2676.8 1351.8,2682.5 C1362.9,2688.2 1383,2701.8 1398.9,2708.6 C1414.8,2715.4 1427.9,2719.5 1447.3,2723.3 C1466.8,2727.1 1494.6,2726.9 1515.6,2731.3 C1536.6,2735.6 1552.1,2743.9 1573.2,2749.4 C1594.4,2754.9 1611.7,2760.4 1642.4,2764.2 C1673.1,2767.9 1715.4,2770.2 1757.7,2772.1 C1800,2774 1873,2774.9 1896.1,2775.5" stroke="#f40808" stroke-width="6.6" stroke-dasharray="42.2 10.6 6.6 10.6" stroke-linecap="butt"/>
<path d="M374.1,2775.5 C375.6,2772.1 380,2763.6 383.3,2755.1 C386.6,2746.6 390.8,2733 393.9,2724.5 C397.1,2716 399.5,2711.8 402.2,2704 C405,2696.3 407.5,2684.6 410.5,2678 C413.5,2671.4 417.7,2667.2 420.2,2664.4 C422.8,2661.5 421.8,2661.3 425.8,2661 C429.8,2660.6 435.4,2660.8 444.2,2662.1 C453,2663.4 468.4,2667.4 478.3,2668.9 C488.2,2670.4 496.7,2671.7 503.7,2671.2 C510.7,2670.6 515,2667.2 520.3,2665.5 C525.6,2663.8 531.3,2663 535.5,2661 C539.7,2658.9 542.7,2657.2 545.7,2653 C548.6,2648.9 550.9,2643.6 553,2636 C555.2,2628.4 556.7,2619.9 558.6,2607.7 C560.4,2595.4 562.3,2578.4 564.1,2562.3 C565.9,2546.2 567.7,2525.4 569.2,2511.3 C570.6,2497.1 571.6,2489.5 572.9,2477.2 C574.2,2465 575.6,2449.8 577,2437.6 C578.5,2425.3 580.1,2413.9 581.6,2403.5 C583.2,2393.1 584.3,2383.7 586.3,2375.2 C588.2,2366.7 590.6,2357 593.2,2352.5 C595.7,2348 599,2345.5 601.5,2348 C603.9,2350.4 605.8,2358.2 607.9,2367.3 C610.1,2376.3 612.6,2392.2 614.4,2402.4 C616.2,2412.6 617.1,2418.8 618.5,2428.5 C620,2438.1 621.6,2449.3 623.1,2460.2 C624.7,2471.2 625.8,2479.1 627.8,2494.3 C629.7,2509.4 632.4,2533 634.7,2551 C637,2568.9 638.9,2586.5 641.6,2602 C644.3,2617.5 647.7,2631.7 650.8,2643.9 C653.9,2656.2 657,2667.6 660,2675.7 C663.1,2683.8 665.6,2686.9 669.3,2692.7 C673,2698.6 677.2,2703.5 682.2,2710.9 C687.2,2718.2 692.2,2729.6 699.2,2736.9 C706.3,2744.3 714.2,2749.8 724.6,2755.1 C735,2760.4 747.7,2765.1 761.5,2768.7 C775.3,2772.3 793.8,2774.9 807.6,2776.6 C821.5,2778.3 833,2779.1 844.5,2778.9 C856.1,2778.7 868.4,2777.2 876.8,2775.5 C885.3,2773.8 890.3,2771.9 895.3,2768.7 C900.2,2765.5 902.5,2760.8 906.3,2756.2 C910.2,2751.7 913,2746 918.3,2741.5 C923.6,2736.9 932.5,2733.3 938.1,2729 C943.8,2724.7 945.6,2719.9 952,2715.4 C958.4,2710.9 968.9,2706.9 976.4,2701.8 C984,2696.7 991.6,2689.5 997.2,2684.8 C1002.7,2680 1005.9,2677.8 1009.6,2673.4 C1013.4,2669.1 1017.2,2664.9 1019.8,2658.7 C1022.4,2652.5 1023.5,2644.5 1025.3,2636 C1027.1,2627.5 1028.6,2618.2 1030.4,2607.7 C1032.2,2597.1 1034.2,2583.1 1035.9,2572.5 C1037.7,2561.9 1039.1,2551.1 1041,2544.2 C1042.9,2537.2 1045.1,2533.6 1047.5,2530.5 C1049.8,2527.5 1052.1,2526 1054.8,2526 C1057.5,2526 1060.7,2528.7 1063.6,2530.5 C1066.5,2532.4 1068.1,2534.5 1072.4,2537.4 C1076.7,2540.2 1084,2544.3 1089.4,2547.6 C1094.9,2550.8 1100.3,2554.2 1105.1,2556.6 C1109.9,2559.1 1113.5,2562.9 1118.5,2562.3 C1123.5,2561.7 1130.8,2554.4 1135.1,2553.2 C1139.4,2552.1 1140.5,2553.2 1144.3,2555.5 C1148.1,2557.8 1152.2,2563.1 1157.7,2566.8 C1163.1,2570.6 1170.6,2572.7 1177,2578.2 C1183.5,2583.7 1190,2592.9 1196.4,2599.7 C1202.9,2606.5 1209.3,2613.1 1215.8,2619 C1222.2,2624.9 1228.6,2630.3 1235.2,2634.9 C1241.7,2639.4 1248.5,2641.3 1255,2646.2 C1261.5,2651.1 1267.9,2659.1 1274.4,2664.4 C1280.8,2669.7 1287.3,2673.8 1293.7,2678 C1300.2,2682.1 1305,2685.7 1313.1,2689.3 C1321.3,2692.9 1334.8,2696.9 1342.6,2699.5 C1350.5,2702.2 1352.5,2702 1360.1,2705.2 C1367.8,2708.4 1375.8,2714.1 1388.7,2718.8 C1401.7,2723.5 1419.7,2730.5 1437.6,2733.5 C1455.5,2736.6 1480,2735.8 1496.2,2736.9 C1512.4,2738.1 1525.9,2738.8 1534.9,2740.3 C1543.9,2741.8 1543.7,2743.6 1550.2,2746 C1556.6,2748.5 1563.2,2752.4 1573.7,2755.1 C1584.1,2757.7 1591.8,2759.8 1612.9,2761.9 C1633.9,2764 1669.9,2765.9 1700,2767.6 C1730.2,2769.3 1761,2770.8 1793.7,2772.1 C1826.3,2773.4 1879,2774.9 1896.1,2775.5" stroke="#9354c4" stroke-width="6.6" stroke-dasharray="42.2 10.6 6.6 10.6" stroke-linecap="butt"/>
<path d="M374.1,2633.7 C374.7,2608.6 376.6,2534.5 377.8,2482.9 C379,2431.3 380.2,2377.1 381.5,2324.2 C382.7,2271.2 383.9,2207 385.2,2165.4 C386.4,2123.8 387.4,2094.5 388.9,2074.7 C390.3,2054.8 392.5,2042.5 393.9,2046.3 C395.3,2050.1 396.2,2073.7 397.2,2097.4 C398.2,2121 398.8,2163.5 399.9,2188.1 C401.1,2212.7 402.2,2227.8 404.1,2244.8 C405.9,2261.8 408.9,2274.6 411,2290.1 C413.1,2305.6 414.6,2324.5 416.5,2337.8 C418.5,2351 420.5,2358.6 422.5,2369.5 C424.6,2380.5 426.4,2392.2 429,2403.5 C431.5,2414.9 434.6,2427.7 437.7,2437.6 C440.9,2447.4 444.7,2455.3 447.9,2462.5 C451.1,2469.7 453.7,2475.7 457.1,2480.7 C460.5,2485.6 464.3,2488.6 468.2,2492 C472,2495.4 475.9,2498.6 480.2,2501.1 C484.4,2503.5 488.6,2507.5 493.6,2506.7 C498.5,2506 505.6,2500.9 510.2,2496.5 C514.7,2492.2 518.1,2486.3 520.8,2480.7 C523.5,2475 524,2469.3 526.3,2462.5 C528.6,2455.7 532.3,2447.8 534.6,2439.8 C536.9,2431.9 538.3,2424.7 540.1,2414.9 C542,2405.1 543.7,2394.1 545.7,2380.9 C547.6,2367.6 549.8,2349.1 551.7,2335.5 C553.5,2321.9 555,2306.8 556.7,2299.2 C558.5,2291.7 560.4,2288.8 562.3,2290.1 C564.1,2291.5 565.3,2298.6 567.8,2307.2 C570.3,2315.7 574.4,2330.8 577,2341.2 C579.6,2351.6 581.1,2360.1 583.5,2369.5 C585.9,2379 589.2,2388 591.3,2397.9 C593.5,2407.7 594.9,2418.5 596.4,2428.5 C597.9,2438.5 598.6,2446.6 600.1,2458 C601.6,2469.3 603.3,2481.4 605.6,2496.5 C607.9,2511.6 610.6,2530.7 613.9,2548.7 C617.2,2566.6 621.1,2585.9 625.5,2604.3 C629.8,2622.6 635,2642.6 640.2,2658.7 C645.4,2674.8 650.4,2688.9 656.8,2700.6 C663.3,2712.4 670.5,2720.7 679,2729 C687.4,2737.3 697.2,2744.5 707.5,2750.5 C717.9,2756.6 729.9,2761.7 741.2,2765.3 C752.5,2768.9 764,2770.4 775.3,2772.1 C786.6,2773.8 797.8,2774.7 809,2775.5 C820.2,2776.2 833.7,2776.6 842.7,2776.6 C851.7,2776.6 856.5,2776.4 863,2775.5 C869.4,2774.5 876,2773.4 881.4,2771 C886.8,2768.5 891.4,2766.2 895.3,2760.8 C899.1,2755.3 901.4,2745.8 904.5,2738.1 C907.6,2730.3 909.3,2721.8 913.7,2714.3 C918.1,2706.7 924.4,2701.4 930.8,2692.7 C937.1,2684 945.3,2671.4 952,2662.1 C958.7,2652.8 964.7,2645.8 970.9,2637.1 C977,2628.4 983.9,2619.8 988.9,2609.9 C993.9,2600.1 997.2,2589.1 1000.9,2578.2 C1004.6,2567.2 1008.1,2556.6 1011,2544.2 C1013.9,2531.7 1016.3,2516 1018.4,2503.3 C1020.5,2490.7 1021.8,2477.6 1023.5,2468.2 C1025.2,2458.7 1026.8,2451.4 1028.5,2446.6 C1030.3,2441.9 1032.1,2439.1 1034.1,2439.8 C1036.1,2440.6 1037.9,2445.9 1040.5,2451.2 C1043.1,2456.5 1045.9,2462.5 1049.8,2471.6 C1053.6,2480.7 1059,2495.4 1063.6,2505.6 C1068.2,2515.8 1072.8,2524.5 1077.4,2532.8 C1082,2541.1 1086.7,2548.7 1091.3,2555.5 C1095.8,2562.3 1100.1,2569.3 1104.6,2573.6 C1109.2,2578 1112.9,2579.5 1118.5,2581.6 C1124,2583.7 1133,2584 1137.8,2586.1 C1142.7,2588.2 1142.7,2589.5 1147.5,2594.1 C1152.4,2598.6 1160.4,2606.1 1166.9,2613.3 C1173.4,2620.5 1180.2,2630 1186.7,2637.1 C1193.3,2644.3 1199.6,2651.3 1206.1,2656.4 C1212.6,2661.5 1219,2664.5 1225.5,2667.8 C1231.9,2671 1238.3,2672.1 1244.8,2675.7 C1251.4,2679.3 1256.5,2684.4 1264.7,2689.3 C1272.8,2694.2 1285.7,2701.2 1293.7,2705.2 C1301.8,2709.2 1305,2710.3 1313.1,2713.1 C1321.3,2716 1331.6,2719 1342.6,2722.2 C1353.6,2725.4 1366.5,2729 1379.1,2732.4 C1391.6,2735.8 1401.6,2739.8 1417.8,2742.6 C1434,2745.4 1462.8,2748.5 1476.4,2749.4 C1490,2750.4 1491.3,2749 1499.4,2748.3 C1507.6,2747.5 1518.3,2744.5 1525.3,2744.9 C1532.2,2745.3 1536.1,2748.5 1540.9,2750.5 C1545.8,2752.6 1548.9,2754.9 1554.3,2757.3 C1559.8,2759.8 1559.4,2763.2 1573.7,2765.3 C1588,2767.4 1619,2768.5 1640.1,2769.8 C1661.2,2771.1 1674.5,2772.1 1700,2773.2 C1725.6,2774.4 1761,2775.9 1793.7,2776.6 C1826.3,2777.4 1879,2777.6 1896.1,2777.8" stroke="#873d2f" stroke-width="6.6" stroke-dasharray="42.2 10.6 6.6 10.6" stroke-linecap="butt"/>
<path d="M374.1,2633.7 C374.7,2606.7 376.6,2525.1 377.8,2471.6 C379,2418.1 380.2,2365.7 381.5,2312.8 C382.7,2259.9 383.9,2197.5 385.2,2154.1 C386.4,2110.6 387.4,2074.7 388.9,2052 C390.3,2029.3 392.5,2014.2 393.9,2018 C395.3,2021.8 396.2,2048.2 397.2,2074.7 C398.2,2101.1 398.8,2149.3 399.9,2176.7 C401.1,2204.1 402.2,2221.2 404.1,2239.1 C405.9,2257.1 408.9,2268.6 411,2284.5 C413.1,2300.3 414.6,2320.8 416.5,2334.4 C418.5,2348 420.5,2355.2 422.5,2366.1 C424.6,2377.1 426.4,2388.8 429,2400.1 C431.5,2411.5 434.6,2424.5 437.7,2434.2 C440.9,2443.8 444.7,2451.2 447.9,2458 C451.1,2464.8 453.7,2470.1 457.1,2475 C460.5,2479.9 464.3,2484.2 468.2,2487.5 C472,2490.7 475.9,2492.6 480.2,2494.3 C484.4,2496 488.6,2498.6 493.6,2497.7 C498.5,2496.7 505.6,2492.4 510.2,2488.6 C514.7,2484.8 518.1,2480.3 520.8,2475 C523.5,2469.7 524,2463.5 526.3,2456.8 C528.6,2450.2 532.3,2443.2 534.6,2435.3 C536.9,2427.4 538.3,2419.2 540.1,2409.2 C542,2399.2 543.7,2389.4 545.7,2375.2 C547.6,2361 549.8,2339.3 551.7,2324.2 C553.5,2309 555,2293.7 556.7,2284.5 C558.5,2275.2 560.4,2269.9 562.3,2268.6 C564.1,2267.3 565.3,2270.3 567.8,2276.5 C570.3,2282.8 574.4,2295.8 577,2306 C579.6,2316.2 581.1,2326.1 583.5,2337.8 C585.9,2349.5 589.2,2363.3 591.3,2376.3 C593.5,2389.4 594.9,2403.5 596.4,2416 C597.9,2428.5 598.6,2438.5 600.1,2451.2 C601.6,2463.8 603.3,2476.3 605.6,2492 C607.9,2507.7 610.6,2527 613.9,2545.3 C617.2,2563.6 621.1,2583.3 625.5,2602 C629.8,2620.7 635,2641.1 640.2,2657.6 C645.4,2674 650.4,2688.7 656.8,2700.6 C663.3,2712.6 670.5,2720.7 679,2729 C687.4,2737.3 697.2,2744.5 707.5,2750.5 C717.9,2756.6 729.9,2761.7 741.2,2765.3 C752.5,2768.9 764,2770.4 775.3,2772.1 C786.6,2773.8 797.8,2774.7 809,2775.5 C820.2,2776.2 833.7,2776.6 842.7,2776.6 C851.7,2776.6 856.5,2776.4 863,2775.5 C869.4,2774.5 876,2773.4 881.4,2771 C886.8,2768.5 891.4,2766.2 895.3,2760.8 C899.1,2755.3 901.4,2746.2 904.5,2738.1 C907.6,2729.9 909.3,2719.9 913.7,2712 C918.1,2704 924.4,2699.1 930.8,2690.4 C937.1,2681.7 945.3,2669.3 952,2659.8 C958.7,2650.4 964.7,2642.8 970.9,2633.7 C977,2624.7 983.9,2615.6 988.9,2605.4 C993.9,2595.2 997.2,2583.8 1000.9,2572.5 C1004.6,2561.2 1008.1,2550.6 1011,2537.4 C1013.9,2524.1 1016.3,2506.9 1018.4,2493.1 C1020.5,2479.3 1021.8,2464.8 1023.5,2454.6 C1025.2,2444.4 1026.8,2437 1028.5,2431.9 C1030.3,2426.8 1032.1,2422.1 1034.1,2424 C1036.1,2425.8 1037.9,2436 1040.5,2443.2 C1043.1,2450.4 1045.9,2457.2 1049.8,2467 C1053.6,2476.9 1059,2491.6 1063.6,2502.2 C1068.2,2512.8 1072.8,2522 1077.4,2530.5 C1082,2539.1 1086.7,2546.4 1091.3,2553.2 C1095.8,2560 1100.1,2567 1104.6,2571.4 C1109.2,2575.7 1112.9,2577.2 1118.5,2579.3 C1124,2581.4 1133,2581.6 1137.8,2583.8 C1142.7,2586.1 1142.7,2588.2 1147.5,2592.9 C1152.4,2597.6 1160.4,2605 1166.9,2612.2 C1173.4,2619.4 1180.2,2628.8 1186.7,2636 C1193.3,2643.2 1199.6,2650.2 1206.1,2655.3 C1212.6,2660.4 1219,2663.2 1225.5,2666.6 C1231.9,2670 1238.3,2672.1 1244.8,2675.7 C1251.4,2679.3 1256.5,2683.4 1264.7,2688.2 C1272.8,2692.9 1285.7,2700.1 1293.7,2704 C1301.8,2708 1305,2709.2 1313.1,2712 C1321.3,2714.8 1331.6,2717.8 1342.6,2721.1 C1353.6,2724.3 1366.5,2727.9 1379.1,2731.3 C1391.6,2734.7 1401.6,2738.6 1417.8,2741.5 C1434,2744.3 1462.8,2747.3 1476.4,2748.3 C1490,2749.2 1491.3,2747.9 1499.4,2747.1 C1507.6,2746.4 1518.3,2743.4 1525.3,2743.7 C1532.2,2744.1 1536.1,2747.3 1540.9,2749.4 C1545.8,2751.5 1548.9,2753.8 1554.3,2756.2 C1559.8,2758.7 1559.4,2762.1 1573.7,2764.2 C1588,2766.2 1619,2767.4 1640.1,2768.7 C1661.2,2770 1674.5,2770.8 1700,2772.1 C1725.6,2773.4 1761,2775.7 1793.7,2776.6 C1826.3,2777.6 1879,2777.6 1896.1,2777.8" stroke="#ff6cc9" stroke-width="6.6" stroke-dasharray="24.4 10.6" stroke-linecap="butt"/>
<path d="M374.1,2777.8 C375.6,2774.4 380,2765.9 383.3,2757.3 C386.6,2748.8 390.8,2735 393.9,2726.7 C397.1,2718.4 399.5,2715.4 402.2,2707.5 C405,2699.5 407.5,2686.1 410.5,2679.1 C413.5,2672.1 417.7,2668.3 420.2,2665.5 C422.8,2662.7 421.8,2662.5 425.8,2662.1 C429.8,2661.7 435.4,2661.9 444.2,2663.2 C453,2664.5 468.4,2668.5 478.3,2670 C488.2,2671.5 496.7,2672.9 503.7,2672.3 C510.7,2671.7 515,2668.3 520.3,2666.6 C525.6,2664.9 531.3,2664 535.5,2662.1 C539.7,2660.2 542.7,2659.3 545.7,2655.3 C548.6,2651.3 550.9,2645.3 553,2638.3 C555.2,2631.3 556.7,2625.6 558.6,2613.3 C560.4,2601 562.3,2581.2 564.1,2564.6 C565.9,2547.9 567.7,2527.5 569.2,2513.5 C570.6,2499.6 571.8,2491.4 572.9,2480.7 C574,2469.9 574.3,2460.2 575.6,2448.9 C577,2437.6 578.9,2422.1 580.7,2412.6 C582.5,2403.2 584.4,2396.9 586.3,2392.2 C588.1,2387.5 590.1,2385.6 591.8,2384.3 C593.5,2382.9 594.6,2382 596.4,2384.3 C598.2,2386.5 599.8,2392.6 602.4,2397.9 C605,2403.2 609.4,2408.6 612.1,2416 C614.8,2423.4 616.6,2433.4 618.5,2442.1 C620.5,2450.8 622.1,2459.5 623.6,2468.2 C625.1,2476.9 625.7,2481.4 627.3,2494.3 C628.9,2507.1 631.1,2528.3 633.3,2545.3 C635.4,2562.3 637.7,2580.3 640.2,2596.3 C642.7,2612.4 645.7,2629.4 648.5,2641.7 C651.3,2654 653.4,2661.1 656.8,2670 C660.2,2678.9 664.6,2688 668.8,2695 C673,2702 677.1,2705 682.2,2712 C687.3,2719 692.2,2729.8 699.2,2736.9 C706.3,2744.1 714.2,2749.8 724.6,2755.1 C735,2760.4 747.7,2765.1 761.5,2768.7 C775.3,2772.3 793.8,2774.9 807.6,2776.6 C821.5,2778.3 833,2779.1 844.5,2778.9 C856.1,2778.7 868.4,2777.2 876.8,2775.5 C885.3,2773.8 890.3,2771.9 895.3,2768.7 C900.2,2765.5 902.5,2760.6 906.3,2756.2 C910.2,2751.9 913,2747 918.3,2742.6 C923.6,2738.3 932.5,2734.5 938.1,2730.1 C943.8,2725.8 945.6,2720.9 952,2716.5 C958.4,2712.2 968.9,2709 976.4,2704 C984,2699.1 991.6,2691.8 997.2,2687 C1002.7,2682.3 1005.9,2679.9 1009.6,2675.7 C1013.4,2671.5 1017.2,2667.8 1019.8,2662.1 C1022.4,2656.4 1023.8,2649.8 1025.3,2641.7 C1026.9,2633.6 1027.6,2623.7 1029,2613.3 C1030.4,2602.9 1031.9,2589.3 1033.6,2579.3 C1035.3,2569.3 1037.2,2559.5 1039.2,2553.2 C1041.1,2547 1042.5,2544.7 1045.1,2541.9 C1047.8,2539.1 1051.8,2537 1054.8,2536.2 C1057.9,2535.5 1060.7,2536.4 1063.6,2537.4 C1066.5,2538.3 1068.1,2539.8 1072.4,2541.9 C1076.7,2544 1084,2546.6 1089.4,2549.8 C1094.9,2553 1100.3,2558.5 1105.1,2561.2 C1109.9,2563.8 1113,2566.1 1118.5,2565.7 C1123.9,2565.3 1131.3,2558.3 1137.8,2558.9 C1144.4,2559.5 1151.1,2565.7 1157.7,2569.1 C1164.2,2572.5 1170.6,2573.8 1177,2579.3 C1183.5,2584.8 1190,2595 1196.4,2602 C1202.9,2609 1209.3,2615.4 1215.8,2621.3 C1222.2,2627.1 1228.6,2632.6 1235.2,2637.1 C1241.7,2641.7 1248.5,2643.6 1255,2648.5 C1261.5,2653.4 1267.9,2661.3 1274.4,2666.6 C1280.8,2671.9 1287.3,2676.1 1293.7,2680.2 C1300.2,2684.4 1305,2688.2 1313.1,2691.6 C1321.3,2695 1334.8,2698.2 1342.6,2700.6 C1350.5,2703.1 1352.5,2703.1 1360.1,2706.3 C1367.8,2709.5 1375.8,2715 1388.7,2719.9 C1401.7,2724.8 1419.7,2732.6 1437.6,2735.8 C1455.5,2739 1480,2738.1 1496.2,2739.2 C1512.4,2740.3 1525.9,2741.1 1534.9,2742.6 C1543.9,2744.1 1543.7,2745.8 1550.2,2748.3 C1556.6,2750.7 1563.2,2754.9 1573.7,2757.3 C1584.1,2759.8 1591.8,2761.1 1612.9,2763 C1633.9,2764.9 1669.9,2767 1700,2768.7 C1730.2,2770.4 1761,2772.1 1793.7,2773.2 C1826.3,2774.4 1879,2775.1 1896.1,2775.5" stroke="#6e6e6e" stroke-width="6.6" stroke-dasharray="24.4 10.6" stroke-linecap="butt"/>
<path d="M374.1,2786.8 C377.9,2785.7 391.1,2783.2 397.2,2780 C403.2,2776.8 405.5,2774.7 410.5,2767.6 C415.6,2760.4 422.9,2743.6 427.6,2736.9 C432.3,2730.3 435.3,2729.6 438.7,2727.9 C442.1,2726.2 438.5,2726.9 447.9,2726.7 C457.3,2726.5 477.3,2727.3 494.9,2726.7 C512.6,2726.2 541.8,2727.9 554,2723.3 C566.1,2718.8 564.1,2710.5 567.8,2699.5 C571.5,2688.6 573.3,2671.7 576.1,2657.6 C578.9,2643.4 581.6,2627.1 584.4,2614.5 C587.3,2601.8 590.9,2592.7 593.2,2581.6 C595.4,2570.4 596.2,2558.9 597.8,2547.6 C599.4,2536.2 600.5,2524.3 602.9,2513.5 C605.2,2502.8 608.3,2489.7 611.6,2482.9 C614.9,2476.1 618.7,2472 622.7,2472.7 C626.7,2473.5 632,2478.6 635.6,2487.5 C639.2,2496.3 641.5,2513.7 644.4,2526 C647.2,2538.3 649.8,2548.1 652.7,2561.2 C655.5,2574.2 658.7,2591 661.4,2604.3 C664.1,2617.5 665.2,2627.7 668.8,2640.5 C672.4,2653.4 677.6,2668.9 683.1,2681.4 C688.6,2693.8 693.1,2704 701.6,2715.4 C710,2726.7 720.8,2740.5 733.8,2749.4 C746.9,2758.3 763,2763.8 780,2768.7 C796.9,2773.6 818.4,2777.8 835.3,2778.9 C852.2,2780 863.2,2780.8 881.4,2775.5 C899.6,2770.2 928.2,2754.9 944.6,2747.1 C961,2739.4 968,2733.9 979.7,2729 C991.3,2724.1 1005.3,2722 1014.7,2717.7 C1024.1,2713.3 1030.5,2709 1035.9,2702.9 C1041.4,2696.9 1044,2691.6 1047.5,2681.4 C1050.9,2671.2 1054,2652.3 1056.7,2641.7 C1059.4,2631.1 1059.8,2623.3 1063.6,2617.9 C1067.4,2612.4 1072.9,2611.3 1079.7,2608.8 C1086.6,2606.3 1095,2606.1 1104.6,2603.1 C1114.3,2600.1 1127.1,2594.4 1137.8,2590.7 C1148.6,2586.9 1159.4,2581.6 1169.2,2580.4 C1179,2579.3 1188.7,2582.1 1196.4,2583.8 C1204.2,2585.5 1207.7,2586.9 1215.8,2590.7 C1223.9,2594.4 1235.1,2599.9 1244.8,2606.5 C1254.6,2613.1 1264.6,2623.2 1274.4,2630.3 C1284.1,2637.5 1293.7,2643.2 1303.4,2649.6 C1313.1,2656 1323,2664 1332.5,2668.9 C1341.9,2673.8 1349.1,2673.8 1360.1,2679.1 C1371.2,2684.4 1382.7,2693.3 1398.9,2700.6 C1415,2708 1437.6,2718.4 1457,2723.3 C1476.4,2728.2 1496.2,2726.4 1515.6,2730.1 C1534.9,2733.9 1552.1,2740.9 1573.2,2746 C1594.4,2751.1 1611.7,2756.6 1642.4,2760.8 C1673.1,2764.9 1715.4,2768.7 1757.7,2771 C1800,2773.2 1873,2773.8 1896.1,2774.4" stroke="#b8bb00" stroke-width="6.6" stroke-dasharray="24.4 10.6" stroke-linecap="butt"/>
<path d="M374.1,2788 C380.2,2786.1 401.6,2780 410.5,2776.6 C419.5,2773.2 422.8,2770.8 427.6,2767.6 C432.4,2764.3 434,2760.2 439.6,2757.3 C445.2,2754.5 449.2,2752.1 461.3,2750.5 C473.3,2749 493.7,2748.7 512,2748.3 C530.3,2747.9 559.5,2750.7 571,2748.3 C582.6,2745.8 577.8,2741.7 581.2,2733.5 C584.6,2725.4 588.3,2708 591.3,2699.5 C594.4,2691 596.6,2691 599.6,2682.5 C602.7,2674 606.9,2659.1 609.8,2648.5 C612.6,2637.9 614.3,2628.8 616.7,2619 C619.1,2609.2 622.1,2597.1 624.1,2589.5 C626.1,2582 627,2579.5 628.7,2573.6 C630.4,2567.8 632.2,2560.4 634.2,2554.4 C636.2,2548.3 638.5,2540.9 640.7,2537.4 C642.8,2533.8 644.8,2532.1 647.1,2532.8 C649.4,2533.6 652.4,2537.9 654.5,2541.9 C656.7,2545.9 658.2,2549.8 660,2556.6 C661.9,2563.4 663.2,2573.6 665.6,2582.7 C668,2591.8 671.4,2600.3 674.3,2611.1 C677.3,2621.8 679.3,2634.7 683.1,2647.3 C686.9,2660 691.6,2674.8 696.9,2687 C702.3,2699.3 707.7,2710.7 715.4,2721.1 C723.1,2731.5 730.8,2741.1 743.1,2749.4 C755.4,2757.7 773.8,2765.9 789.2,2771 C804.6,2776.1 819.9,2778.9 835.3,2780 C850.7,2781.2 862.2,2781.9 881.4,2777.8 C900.6,2773.6 929.8,2761.3 950.6,2755.1 C971.4,2748.8 993.8,2743.7 1005.9,2740.3 C1018.1,2736.9 1017,2739.4 1023.5,2734.7 C1029.9,2729.9 1038.8,2720.1 1044.7,2712 C1050.5,2703.9 1052.4,2694.6 1058.5,2685.9 C1064.6,2677.2 1076,2664.5 1081.1,2659.8 C1086.3,2655.1 1083.2,2659.6 1089.4,2657.6 C1095.6,2655.5 1107.8,2652.3 1118.5,2647.3 C1129.2,2642.4 1143.2,2633.9 1153.5,2628.1 C1163.9,2622.2 1170.4,2616.2 1180.7,2612.2 C1191.1,2608.2 1203.4,2605.6 1215.8,2604.3 C1228.2,2602.9 1245.2,2602.9 1255,2604.3 C1264.8,2605.6 1264.7,2607.7 1274.4,2612.2 C1284,2616.7 1300.2,2624.9 1313.1,2631.5 C1326,2638.1 1337.5,2643.6 1351.8,2651.9 C1366.1,2660.2 1385.2,2673.2 1398.9,2681.4 C1412.6,2689.5 1420.3,2695 1433.9,2700.6 C1447.6,2706.3 1457.7,2709.5 1481,2715.4 C1504.3,2721.2 1542.9,2729.2 1573.7,2735.8 C1604.4,2742.4 1634.8,2750.4 1665.5,2755.1 C1696.1,2759.8 1719.3,2761.5 1757.7,2764.2 C1796.1,2766.8 1873,2769.8 1896.1,2771" stroke="#00bfd3" stroke-width="6.6" stroke-dasharray="24.4 10.6" stroke-linecap="butt"/>
<path d="M374.1,2789.1 C377.9,2788.9 388.2,2789.5 397.2,2788 C406.1,2786.5 419.8,2783 427.6,2780.2 C435.4,2777.4 437.2,2774.3 444.2,2771.3 C451.2,2768.4 455.5,2764.1 469.6,2762.4 C483.6,2760.8 510.4,2761.5 528.6,2761.3 C546.8,2761.1 568,2763 578.9,2761.3 C589.8,2759.7 589.9,2755.8 594.1,2751.3 C598.3,2746.9 600.5,2741.7 604.2,2734.6 C607.9,2727.6 611.8,2718.5 616.2,2709.1 C620.6,2699.6 626.1,2688.9 630.5,2678 C635,2667 640.2,2652.8 643,2643.5 C645.7,2634.3 645.7,2629.4 647.1,2622.4 C648.5,2615.4 649.1,2607.8 651.3,2601.3 C653.5,2594.8 657.1,2587.6 660.5,2583.5 C663.9,2579.4 667.9,2575.2 671.6,2576.8 C675.3,2578.5 679.3,2585.9 682.6,2593.5 C685.9,2601.1 689,2613 691.4,2622.4 C693.8,2631.8 694.9,2642.8 696.9,2650.2 C698.9,2657.6 699.8,2655.7 703.4,2666.9 C707,2678 714.6,2705.2 718.6,2716.9 C722.6,2728.5 723.2,2730.6 727.4,2736.9 C731.6,2743.2 736,2748.5 744,2754.6 C752,2760.8 764.5,2769.1 775.3,2773.5 C786.2,2778 797.8,2779.7 809,2781.3 C820.2,2783 831.5,2783.5 842.7,2783.5 C853.9,2783.5 866.8,2782.2 876.3,2781.3 C885.9,2780.4 891.4,2780.2 899.9,2778 C908.3,2775.8 913.8,2771 927.1,2768 C940.4,2764.9 967,2762 979.7,2759.6 C992.3,2757.3 994,2756 1002.7,2753.9 C1011.5,2751.9 1023.9,2750.9 1032.2,2747.1 C1040.6,2743.4 1047.1,2736.2 1053,2731.3 C1058.8,2726.4 1061.2,2723.5 1067.3,2717.7 C1073.4,2711.8 1082.5,2701.2 1089.4,2696.1 C1096.3,2691 1102.3,2688.9 1108.8,2687 C1115.2,2685.2 1121.7,2686.9 1128.2,2684.8 C1134.6,2682.7 1139.4,2679.5 1147.5,2674.6 C1155.7,2669.7 1168.9,2660.2 1177,2655.3 C1185.2,2650.4 1190,2647.7 1196.4,2645.1 C1202.9,2642.4 1209.3,2642.2 1215.8,2639.4 C1222.2,2636.6 1227,2631.7 1235.2,2628.1 C1243.3,2624.5 1254.9,2619.6 1264.7,2617.9 C1274.4,2616.2 1284.7,2617.1 1293.7,2617.9 C1302.8,2618.6 1311,2620.1 1319.1,2622.4 C1327.2,2624.7 1331,2625.6 1342.6,2631.5 C1354.2,2637.3 1372.9,2648.3 1388.7,2657.6 C1404.6,2666.8 1418.4,2678.7 1437.6,2687 C1456.8,2695.4 1484.6,2702 1504,2707.5 C1523.5,2712.9 1539.4,2717.5 1554.3,2719.9 C1569.2,2722.4 1578.9,2719.4 1593.5,2722.2 C1608.1,2725 1630,2732 1641.9,2736.9 C1653.9,2741.8 1655.3,2748.1 1665,2751.7 C1674.7,2755.3 1686.4,2757 1700,2758.5 C1713.7,2760 1731.5,2759.8 1747.1,2760.8 C1762.7,2761.7 1778.1,2763 1793.7,2764.2 C1809.3,2765.3 1823.7,2766.6 1840.7,2767.6 C1857.8,2768.5 1886.8,2769.4 1896.1,2769.8" stroke="#0869b0" stroke-width="6.6" stroke-dasharray="24.4 10.6" stroke-linecap="butt"/>
<path d="M374.1,2765.3 C375.9,2761.3 381.9,2755.3 385.2,2741.5 C388.5,2727.7 390.9,2703.7 393.9,2682.5 C396.9,2661.3 400.2,2637 403.2,2614.5 C406.2,2592 409.1,2565.7 411.9,2547.6 C414.8,2529.4 417.1,2517.7 420.2,2505.6 C423.4,2493.5 427.6,2482.2 430.8,2475 C434.1,2467.8 435.9,2464.8 439.6,2462.5 C443.3,2460.2 448.2,2461.4 453,2461.4 C457.7,2461.4 461.7,2461.4 468.2,2462.5 C474.6,2463.6 484.9,2467.4 491.7,2468.2 C498.5,2468.9 503.7,2468.6 508.8,2467 C513.8,2465.5 517.7,2462.3 522.1,2459.1 C526.6,2455.9 531.3,2452.5 535.5,2447.8 C539.7,2443 544.4,2437.7 547.5,2430.8 C550.6,2423.8 552.3,2416.6 554,2405.8 C555.7,2395 556.7,2379.7 557.7,2366.1 C558.7,2352.5 559.1,2338.1 560,2324.2 C560.8,2310.2 561.7,2299.2 562.7,2282.2 C563.7,2265.2 564.7,2249.1 566,2222.1 C567.3,2195.1 569.3,2155.4 570.6,2120 C571.9,2084.7 572.7,2039.3 573.8,2010 C574.9,1980.7 575.9,1966 577,1944.3 C578.2,1922.5 579.6,1898.5 580.7,1879.6 C581.8,1860.7 582.4,1849.8 583.5,1830.9 C584.6,1812 585.6,1787.6 587.2,1766.2 C588.8,1744.9 590.9,1719.4 593.2,1702.7 C595.5,1686.1 598.5,1674.4 601,1666.4 C603.5,1658.5 605.8,1652.1 608.4,1655.1 C611,1658.1 614,1671.5 616.7,1684.6 C619.4,1697.6 622.1,1717.1 624.5,1733.3 C626.9,1749.6 629.1,1765.9 631,1782.1 C632.9,1798.4 634.4,1814.6 636.1,1830.9 C637.7,1847.1 639.1,1860.7 640.7,1879.6 C642.3,1898.5 643.8,1922.5 645.7,1944.3 C647.7,1966 649.7,1980.7 652.2,2010 C654.7,2039.3 657,2078.5 660.5,2120 C664,2161.6 669.8,2223.6 673,2259.5 C676.1,2295.4 676.6,2307.7 679.4,2335.5 C682.3,2363.3 686.6,2396.9 690,2426.2 C693.5,2455.5 697.6,2489.5 700.2,2511.3 C702.8,2533 703.6,2542.8 705.7,2556.6 C707.8,2570.4 710.1,2582.3 712.6,2594.1 C715.2,2605.8 717.8,2615.8 720.9,2626.9 C724,2638.1 727.1,2649.6 731.1,2661 C735.1,2672.3 739.8,2685.3 744.9,2695 C750,2704.6 755.1,2711.8 761.5,2718.8 C768,2725.8 775.7,2731.6 783.6,2736.9 C791.6,2742.2 800.6,2746.8 809,2750.5 C817.5,2754.3 827.5,2757.9 834.4,2759.6 C841.3,2761.3 845.8,2761.7 850.5,2760.8 C855.2,2759.8 857.8,2757.3 862.5,2753.9 C867.2,2750.5 873.3,2744.1 878.7,2740.3 C884,2736.6 890.6,2735.4 894.3,2731.3 C898.1,2727.1 899.3,2721.4 901.3,2715.4 C903.3,2709.3 904.6,2702.9 906.3,2695 C908,2687 909.4,2676.1 911.4,2667.8 C913.4,2659.4 914.8,2652.8 918.3,2645.1 C921.9,2637.3 927.6,2630 932.6,2621.3 C937.6,2612.6 942.8,2602.6 948.3,2592.9 C953.8,2583.3 960.6,2573.3 965.8,2563.4 C971,2553.6 975,2545.7 979.7,2533.9 C984.3,2522.2 989.6,2507.1 994,2493.1 C998.3,2479.1 1002.2,2464.6 1005.9,2450 C1009.7,2435.5 1013.6,2419.2 1016.6,2405.8 C1019.5,2392.4 1021.6,2383.1 1023.5,2369.5 C1025.3,2355.9 1026.1,2346.1 1027.6,2324.2 C1029.2,2302.2 1030.8,2264.8 1032.7,2238 C1034.5,2211.1 1036.7,2184.9 1038.7,2163.1 C1040.7,2141.4 1042.7,2122.9 1044.7,2107.6 C1046.7,2092.3 1048.1,2081.3 1050.7,2071.3 C1053.2,2061.3 1055.9,2055.4 1059.9,2047.5 C1063.9,2039.5 1070.2,2028.9 1074.7,2023.6 C1079.1,2018.4 1082.2,2014.8 1086.7,2015.7 C1091.1,2016.7 1097.5,2025 1101.4,2029.3 C1105.3,2033.7 1107.4,2038.8 1110.2,2041.8 C1112.9,2044.8 1115.7,2047.1 1118,2047.5 C1120.3,2047.8 1121.8,2047.1 1124,2044.1 C1126.2,2041 1128.6,2034.8 1131.4,2029.3 C1134.2,2023.8 1137.6,2014.6 1140.6,2011.2 C1143.6,2007.8 1144.9,2008.9 1149.4,2008.9 C1153.8,2008.9 1161.9,2009.5 1167.4,2011.2 C1172.8,2012.9 1176.1,2012.1 1182.1,2019.1 C1188.1,2026.1 1197.3,2042 1203.3,2053.1 C1209.3,2064.3 1213.2,2076 1218.1,2086 C1223,2096 1227.9,2104.7 1232.9,2113.2 C1237.9,2121.7 1242.1,2125.7 1248.1,2137.1 C1254.1,2148.4 1262.4,2166.9 1268.8,2181.3 C1275.3,2195.6 1281.4,2209.8 1286.8,2223.2 C1292.3,2236.7 1296.6,2249.9 1301.6,2261.8 C1306.6,2273.7 1310.3,2281.6 1316.8,2294.7 C1323.2,2307.7 1332.4,2324.3 1340.3,2340 C1348.2,2355.7 1356.9,2373.3 1364.3,2388.8 C1371.7,2404.3 1377.8,2419 1384.6,2433 C1391.4,2447 1398.8,2461.9 1404.9,2472.7 C1411,2483.5 1414.7,2489.9 1421,2497.7 C1427.3,2505.4 1434.7,2513.2 1442.7,2519.2 C1450.7,2525.3 1460.5,2530.2 1469,2533.9 C1477.4,2537.7 1485.4,2537.9 1493.4,2541.9 C1501.5,2545.9 1509.4,2549.8 1517.4,2557.8 C1525.4,2565.7 1534,2579.5 1541.4,2589.5 C1548.8,2599.5 1554.9,2611.4 1561.7,2617.9 C1568.5,2624.3 1574.6,2624.7 1582,2628.1 C1589.4,2631.5 1597.3,2632.6 1606,2638.3 C1614.7,2643.9 1624.6,2654.7 1634.1,2662.1 C1643.6,2669.5 1651.2,2676.5 1662.7,2682.5 C1674.1,2688.6 1689.4,2693.7 1702.8,2698.4 C1716.2,2703.1 1729.5,2707.5 1742.9,2710.9 C1756.4,2714.3 1770.1,2716.5 1783.5,2718.8 C1797,2721.1 1810.3,2723.1 1823.7,2724.5 C1837,2725.8 1851.7,2725.6 1863.8,2726.7 C1875.8,2727.9 1890.7,2730.5 1896.1,2731.3" stroke="#ff7600" stroke-width="6.4" stroke-linecap="butt"/>
</g>
<rect x="1444" y="1622" width="506" height="1090.5" rx="9" ry="9" fill="#ffffff" fill-opacity="0.8" stroke="#bdbdbd" stroke-opacity="0.8" stroke-width="3.0"/>
<line x1="1462.5" y1="1673.8" x2="1554" y2="1673.8" stroke="#0869b0" stroke-width="6.6" stroke-dasharray="42.2 10.6 6.6 10.6"/>
<text x="1597.6" y="1689.6" font-size="45" textLength="199.9" lengthAdjust="spacing" fill="#000">ΓM, 0.30</text>
<text x="1804.3" y="1689.6" font-size="45" font-style="italic" fill="#000">Å</text>
<text x="1839.6" y="1672" font-size="31.5" fill="#000">−1</text>
<line x1="1462.5" y1="1768.1" x2="1554" y2="1768.1" stroke="#ff7600" stroke-width="6.6" stroke-dasharray="42.2 10.6 6.6 10.6"/>
<text x="1597.6" y="1781.3" font-size="45" textLength="199.9" lengthAdjust="spacing" fill="#000">ΓM, 0.25</text>
<text x="1804.3" y="1781.3" font-size="45" font-style="italic" fill="#000">Å</text>
<text x="1839.6" y="1763.7" font-size="31.5" fill="#000">−1</text>
<line x1="1462.5" y1="1858.7" x2="1554" y2="1858.7" stroke="#03a024" stroke-width="6.6" stroke-dasharray="42.2 10.6 6.6 10.6"/>
<text x="1597.6" y="1872.5" font-size="45" textLength="199.9" lengthAdjust="spacing" fill="#000">ΓM, 0.20</text>
<text x="1804.3" y="1872.5" font-size="45" font-style="italic" fill="#000">Å</text>
<text x="1839.6" y="1854.9" font-size="31.5" fill="#000">−1</text>
<line x1="1462.5" y1="1950" x2="1554" y2="1950" stroke="#f40808" stroke-width="6.6" stroke-dasharray="42.2 10.6 6.6 10.6"/>
<text x="1597.6" y="1963.5" font-size="45" textLength="199.9" lengthAdjust="spacing" fill="#000">ΓM, 0.15</text>
<text x="1804.3" y="1963.5" font-size="45" font-style="italic" fill="#000">Å</text>
<text x="1839.6" y="1945.9" font-size="31.5" fill="#000">−1</text>
<line x1="1462.5" y1="2041" x2="1554" y2="2041" stroke="#9354c4" stroke-width="6.6" stroke-dasharray="42.2 10.6 6.6 10.6"/>
<text x="1597.6" y="2054.2" font-size="45" textLength="199.9" lengthAdjust="spacing" fill="#000">ΓM, 0.10</text>
<text x="1804.3" y="2054.2" font-size="45" font-style="italic" fill="#000">Å</text>
<text x="1839.6" y="2036.6" font-size="31.5" fill="#000">−1</text>
<line x1="1462.5" y1="2132" x2="1554" y2="2132" stroke="#873d2f" stroke-width="6.6" stroke-dasharray="42.2 10.6 6.6 10.6"/>
<text x="1597.6" y="2145.8" font-size="45" textLength="199.9" lengthAdjust="spacing" fill="#000">ΓM, 0.05</text>
<text x="1804.3" y="2145.8" font-size="45" font-style="italic" fill="#000">Å</text>
<text x="1839.6" y="2128.2" font-size="31.5" fill="#000">−1</text>
<line x1="1462.5" y1="2224" x2="1554" y2="2224" stroke="#ff6cc9" stroke-width="6.6" stroke-dasharray="24.4 10.6"/>
<text x="1596.6" y="2237.5" font-size="45" textLength="190.5" lengthAdjust="spacing" fill="#000">ΓK, 0.06</text>
<text x="1794.2" y="2237.5" font-size="45" font-style="italic" fill="#000">Å</text>
<text x="1829.5" y="2219.9" font-size="31.5" fill="#000">−1</text>
<line x1="1462.5" y1="2315.1" x2="1554" y2="2315.1" stroke="#6e6e6e" stroke-width="6.6" stroke-dasharray="24.4 10.6"/>
<text x="1596.6" y="2331.7" font-size="45" textLength="190.5" lengthAdjust="spacing" fill="#000">ΓK, 0.12</text>
<text x="1794.2" y="2331.7" font-size="45" font-style="italic" fill="#000">Å</text>
<text x="1829.5" y="2314.1" font-size="31.5" fill="#000">−1</text>
<line x1="1462.5" y1="2409.2" x2="1554" y2="2409.2" stroke="#b8bb00" stroke-width="6.6" stroke-dasharray="24.4 10.6"/>
<text x="1596.6" y="2422.3" font-size="45" textLength="190.5" lengthAdjust="spacing" fill="#000">ΓK, 0.17</text>
<text x="1794.2" y="2422.3" font-size="45" font-style="italic" fill="#000">Å</text>
<text x="1829.5" y="2404.7" font-size="31.5" fill="#000">−1</text>
<line x1="1462.5" y1="2500.1" x2="1554" y2="2500.1" stroke="#00bfd3" stroke-width="6.6" stroke-dasharray="24.4 10.6"/>
<text x="1596.6" y="2514" font-size="45" textLength="190.5" lengthAdjust="spacing" fill="#000">ΓK, 0.23</text>
<text x="1794.2" y="2514" font-size="45" font-style="italic" fill="#000">Å</text>
<text x="1829.5" y="2496.4" font-size="31.5" fill="#000">−1</text>
<line x1="1462.5" y1="2591.1" x2="1554" y2="2591.1" stroke="#0869b0" stroke-width="6.6" stroke-dasharray="24.4 10.6"/>
<text x="1596.6" y="2604.6" font-size="45" textLength="190.5" lengthAdjust="spacing" fill="#000">ΓK, 0.29</text>
<text x="1794.2" y="2604.6" font-size="45" font-style="italic" fill="#000">Å</text>
<text x="1829.5" y="2587" font-size="31.5" fill="#000">−1</text>
<line x1="1459" y1="2665.5" x2="1557.5" y2="2665.5" stroke="#ff7600" stroke-width="6.6"/>
<text transform="translate(1593.8,2686.1) scale(1.0100,1)" font-size="46.5" fill="#000">Weighted sum</text>
<g stroke="#000" fill="none">
<line x1="282.2" y1="2789.1" x2="300" y2="2789.1" stroke-width="4.3"/>
<line x1="1973.8" y1="2789.1" x2="1991.6" y2="2789.1" stroke-width="4.3"/>
<line x1="282.2" y1="2562.3" x2="300" y2="2562.3" stroke-width="4.3"/>
<line x1="1973.8" y1="2562.3" x2="1991.6" y2="2562.3" stroke-width="4.3"/>
<line x1="282.2" y1="2335.5" x2="300" y2="2335.5" stroke-width="4.3"/>
<line x1="1973.8" y1="2335.5" x2="1991.6" y2="2335.5" stroke-width="4.3"/>
<line x1="282.2" y1="2108.7" x2="300" y2="2108.7" stroke-width="4.3"/>
<line x1="1973.8" y1="2108.7" x2="1991.6" y2="2108.7" stroke-width="4.3"/>
<line x1="282.2" y1="1881.9" x2="300" y2="1881.9" stroke-width="4.3"/>
<line x1="1973.8" y1="1881.9" x2="1991.6" y2="1881.9" stroke-width="4.3"/>
<line x1="282.2" y1="1655.1" x2="300" y2="1655.1" stroke-width="4.3"/>
<line x1="1973.8" y1="1655.1" x2="1991.6" y2="1655.1" stroke-width="4.3"/>
<line x1="288.5" y1="2834.5" x2="300" y2="2834.5" stroke-width="3.5"/>
<line x1="1973.8" y1="2834.5" x2="1985.3" y2="2834.5" stroke-width="3.5"/>
<line x1="288.5" y1="2743.7" x2="300" y2="2743.7" stroke-width="3.5"/>
<line x1="1973.8" y1="2743.7" x2="1985.3" y2="2743.7" stroke-width="3.5"/>
<line x1="288.5" y1="2698.4" x2="300" y2="2698.4" stroke-width="3.5"/>
<line x1="1973.8" y1="2698.4" x2="1985.3" y2="2698.4" stroke-width="3.5"/>
<line x1="288.5" y1="2653" x2="300" y2="2653" stroke-width="3.5"/>
<line x1="1973.8" y1="2653" x2="1985.3" y2="2653" stroke-width="3.5"/>
<line x1="288.5" y1="2607.7" x2="300" y2="2607.7" stroke-width="3.5"/>
<line x1="1973.8" y1="2607.7" x2="1985.3" y2="2607.7" stroke-width="3.5"/>
<line x1="288.5" y1="2516.9" x2="300" y2="2516.9" stroke-width="3.5"/>
<line x1="1973.8" y1="2516.9" x2="1985.3" y2="2516.9" stroke-width="3.5"/>
<line x1="288.5" y1="2471.6" x2="300" y2="2471.6" stroke-width="3.5"/>
<line x1="1973.8" y1="2471.6" x2="1985.3" y2="2471.6" stroke-width="3.5"/>
<line x1="288.5" y1="2426.2" x2="300" y2="2426.2" stroke-width="3.5"/>
<line x1="1973.8" y1="2426.2" x2="1985.3" y2="2426.2" stroke-width="3.5"/>
<line x1="288.5" y1="2380.9" x2="300" y2="2380.9" stroke-width="3.5"/>
<line x1="1973.8" y1="2380.9" x2="1985.3" y2="2380.9" stroke-width="3.5"/>
<line x1="288.5" y1="2290.1" x2="300" y2="2290.1" stroke-width="3.5"/>
<line x1="1973.8" y1="2290.1" x2="1985.3" y2="2290.1" stroke-width="3.5"/>
<line x1="288.5" y1="2244.8" x2="300" y2="2244.8" stroke-width="3.5"/>
<line x1="1973.8" y1="2244.8" x2="1985.3" y2="2244.8" stroke-width="3.5"/>
<line x1="288.5" y1="2199.4" x2="300" y2="2199.4" stroke-width="3.5"/>
<line x1="1973.8" y1="2199.4" x2="1985.3" y2="2199.4" stroke-width="3.5"/>
<line x1="288.5" y1="2154.1" x2="300" y2="2154.1" stroke-width="3.5"/>
<line x1="1973.8" y1="2154.1" x2="1985.3" y2="2154.1" stroke-width="3.5"/>
<line x1="288.5" y1="2063.3" x2="300" y2="2063.3" stroke-width="3.5"/>
<line x1="1973.8" y1="2063.3" x2="1985.3" y2="2063.3" stroke-width="3.5"/>
<line x1="288.5" y1="2018" x2="300" y2="2018" stroke-width="3.5"/>
<line x1="1973.8" y1="2018" x2="1985.3" y2="2018" stroke-width="3.5"/>
<line x1="288.5" y1="1972.6" x2="300" y2="1972.6" stroke-width="3.5"/>
<line x1="1973.8" y1="1972.6" x2="1985.3" y2="1972.6" stroke-width="3.5"/>
<line x1="288.5" y1="1927.3" x2="300" y2="1927.3" stroke-width="3.5"/>
<line x1="1973.8" y1="1927.3" x2="1985.3" y2="1927.3" stroke-width="3.5"/>
<line x1="288.5" y1="1836.5" x2="300" y2="1836.5" stroke-width="3.5"/>
<line x1="1973.8" y1="1836.5" x2="1985.3" y2="1836.5" stroke-width="3.5"/>
<line x1="288.5" y1="1791.2" x2="300" y2="1791.2" stroke-width="3.5"/>
<line x1="1973.8" y1="1791.2" x2="1985.3" y2="1791.2" stroke-width="3.5"/>
<line x1="288.5" y1="1745.8" x2="300" y2="1745.8" stroke-width="3.5"/>
<line x1="1973.8" y1="1745.8" x2="1985.3" y2="1745.8" stroke-width="3.5"/>
<line x1="288.5" y1="1700.5" x2="300" y2="1700.5" stroke-width="3.5"/>
<line x1="1973.8" y1="1700.5" x2="1985.3" y2="1700.5" stroke-width="3.5"/>
<line x1="288.5" y1="1609.7" x2="300" y2="1609.7" stroke-width="3.5"/>
<line x1="1973.8" y1="1609.7" x2="1985.3" y2="1609.7" stroke-width="3.5"/>
<line x1="374.1" y1="2846.6" x2="374.1" y2="2861.1" stroke-width="4.3"/>
<line x1="374.1" y1="1583.2" x2="374.1" y2="1597.7" stroke-width="4.3"/>
<line x1="835.3" y1="2846.6" x2="835.3" y2="2861.1" stroke-width="4.3"/>
<line x1="835.3" y1="1583.2" x2="835.3" y2="1597.7" stroke-width="4.3"/>
<line x1="1296.5" y1="2846.6" x2="1296.5" y2="2861.1" stroke-width="4.3"/>
<line x1="1296.5" y1="1583.2" x2="1296.5" y2="1597.7" stroke-width="4.3"/>
<line x1="1757.7" y1="2846.6" x2="1757.7" y2="2861.1" stroke-width="4.3"/>
<line x1="1757.7" y1="1583.2" x2="1757.7" y2="1597.7" stroke-width="4.3"/>
<line x1="466.3" y1="2846.6" x2="466.3" y2="2856.6" stroke-width="3.5"/>
<line x1="466.3" y1="1587.7" x2="466.3" y2="1597.7" stroke-width="3.5"/>
<line x1="558.6" y1="2846.6" x2="558.6" y2="2856.6" stroke-width="3.5"/>
<line x1="558.6" y1="1587.7" x2="558.6" y2="1597.7" stroke-width="3.5"/>
<line x1="650.8" y1="2846.6" x2="650.8" y2="2856.6" stroke-width="3.5"/>
<line x1="650.8" y1="1587.7" x2="650.8" y2="1597.7" stroke-width="3.5"/>
<line x1="743.1" y1="2846.6" x2="743.1" y2="2856.6" stroke-width="3.5"/>
<line x1="743.1" y1="1587.7" x2="743.1" y2="1597.7" stroke-width="3.5"/>
<line x1="927.5" y1="2846.6" x2="927.5" y2="2856.6" stroke-width="3.5"/>
<line x1="927.5" y1="1587.7" x2="927.5" y2="1597.7" stroke-width="3.5"/>
<line x1="1019.8" y1="2846.6" x2="1019.8" y2="2856.6" stroke-width="3.5"/>
<line x1="1019.8" y1="1587.7" x2="1019.8" y2="1597.7" stroke-width="3.5"/>
<line x1="1112" y1="2846.6" x2="1112" y2="2856.6" stroke-width="3.5"/>
<line x1="1112" y1="1587.7" x2="1112" y2="1597.7" stroke-width="3.5"/>
<line x1="1204.3" y1="2846.6" x2="1204.3" y2="2856.6" stroke-width="3.5"/>
<line x1="1204.3" y1="1587.7" x2="1204.3" y2="1597.7" stroke-width="3.5"/>
<line x1="1388.7" y1="2846.6" x2="1388.7" y2="2856.6" stroke-width="3.5"/>
<line x1="1388.7" y1="1587.7" x2="1388.7" y2="1597.7" stroke-width="3.5"/>
<line x1="1481" y1="2846.6" x2="1481" y2="2856.6" stroke-width="3.5"/>
<line x1="1481" y1="1587.7" x2="1481" y2="1597.7" stroke-width="3.5"/>
<line x1="1573.2" y1="2846.6" x2="1573.2" y2="2856.6" stroke-width="3.5"/>
<line x1="1573.2" y1="1587.7" x2="1573.2" y2="1597.7" stroke-width="3.5"/>
<line x1="1665.5" y1="2846.6" x2="1665.5" y2="2856.6" stroke-width="3.5"/>
<line x1="1665.5" y1="1587.7" x2="1665.5" y2="1597.7" stroke-width="3.5"/>
<line x1="1849.9" y1="2846.6" x2="1849.9" y2="2856.6" stroke-width="3.5"/>
<line x1="1849.9" y1="1587.7" x2="1849.9" y2="1597.7" stroke-width="3.5"/>
<line x1="1942.2" y1="2846.6" x2="1942.2" y2="2856.6" stroke-width="3.5"/>
<line x1="1942.2" y1="1587.7" x2="1942.2" y2="1597.7" stroke-width="3.5"/>
</g>
<rect x="300" y="1597.7" width="1673.8" height="1248.9" fill="none" stroke="#000" stroke-width="4.6"/>
<text transform="translate(146.1,2820.4) scale(0.9800,1)" font-size="74.6" fill="#000">0.0</text>
<text transform="translate(148.3,2592.1) scale(0.9800,1)" font-size="74.6" fill="#000">0.2</text>
<text transform="translate(144.6,2364.6) scale(0.9800,1)" font-size="74.6" fill="#000">0.4</text>
<text transform="translate(145.3,2139.2) scale(0.9800,1)" font-size="74.6" fill="#000">0.6</text>
<text transform="translate(146.1,1912.7) scale(0.9800,1)" font-size="74.6" fill="#000">0.8</text>
<text transform="translate(146.1,1686.7) scale(0.9800,1)" font-size="74.6" fill="#000">1.0</text>
<text transform="translate(351.3,2938.4) scale(0.9800,1)" font-size="74.6" fill="#000">0</text>
<text transform="translate(788.8,2938.4) scale(0.9800,1)" font-size="74.6" fill="#000">10</text>
<text transform="translate(1250.7,2938.4) scale(0.9800,1)" font-size="74.6" fill="#000">20</text>
<text transform="translate(1711.5,2938.4) scale(0.9800,1)" font-size="74.6" fill="#000">30</text>
<g clip-path="url(#clipXL)"><text transform="translate(827,3036.3) scale(0.9500,1)" font-size="79.3" fill="#000">Energy loss (eV)</text></g>
<text transform="translate(108.4,2440.2) rotate(-90) scale(0.9800,1)" font-size="76.5" fill="#000">EELS (a. u.)</text>
<text transform="translate(971.4,3130.3) scale(1.0000,1)" font-size="76.8" style="font-family:'Liberation Serif','Times New Roman',serif" font-weight="bold" fill="#000"><tspan font-weight="normal">(</tspan>b<tspan font-weight="normal">)</tspan></text>
</g>
</svg></body></html>
